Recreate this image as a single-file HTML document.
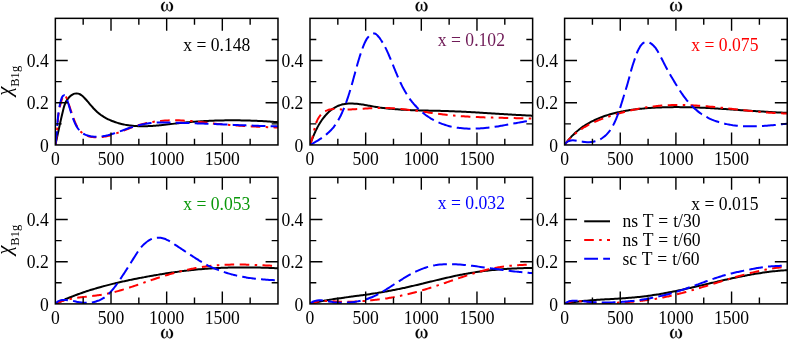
<!DOCTYPE html><html><head><meta charset="utf-8"><style>html,body{margin:0;padding:0;background:#fff}svg{display:block;will-change:transform;opacity:0.999}text{font-family:"Liberation Serif",serif;}</style></head><body>
<svg width="789" height="340" viewBox="0 0 789 340">
<rect width="789" height="340" fill="#fff"/>
<defs><g id="om" fill="#000" stroke="#000" stroke-width="0.25" stroke-linejoin="round"><path id="lobe" d="M-2.29,1.83 C-4.3,2.3 -6.0,4.6 -6.0,6.69 C-6.0,9.2 -4.8,11.3 -3.06,11.3 C-1.8,11.3 -1.0,10.6 -0.5,9.5 L-0.8,9.0 C-1.3,10.1 -1.8,10.65 -2.48,10.65 C-3.5,10.65 -4.05,8.6 -4.05,6.88 C-4.05,5.0 -3.4,3.3 -2.1,2.5 Z"/><use href="#lobe" transform="scale(-1,1)"/><path d="M-0.72,4.2 H0.72 L0.62,8.8 L0,9.7 L-0.62,8.8 Z"/></g></defs>
<clipPath id="c0"><rect x="55.35" y="18.35" width="222.63" height="126.6"/></clipPath>
<g clip-path="url(#c0)" fill="none" stroke-linecap="butt" stroke-linejoin="round"><path d="M55.35,144.95C55.42,144.65 55.62,143.78 55.76,143.18C55.89,142.58 56.03,141.97 56.17,141.36C56.31,140.74 56.45,140.11 56.59,139.48C56.73,138.84 56.87,138.20 57.01,137.55C57.15,136.90 57.30,136.24 57.44,135.58C57.58,134.92 57.73,134.25 57.87,133.58C58.02,132.90 58.17,132.22 58.31,131.54C58.46,130.86 58.61,130.17 58.76,129.49C58.90,128.80 59.05,128.10 59.20,127.41C59.35,126.72 59.51,126.02 59.66,125.33C59.81,124.63 59.96,123.93 60.11,123.23C60.27,122.54 60.42,121.84 60.58,121.14C60.73,120.45 60.89,119.75 61.04,119.06C61.20,118.37 61.35,117.68 61.51,116.99C61.67,116.30 61.83,115.61 61.98,114.93C62.14,114.25 62.30,113.58 62.46,112.91C62.62,112.23 62.78,111.57 62.94,110.91C63.10,110.25 63.26,109.59 63.43,108.94C63.60,108.30 63.77,107.66 63.96,107.02C64.15,106.39 64.34,105.77 64.55,105.15C64.77,104.54 64.99,103.93 65.25,103.34C65.50,102.74 65.77,102.15 66.07,101.58C66.37,101.00 66.70,100.44 67.06,99.89C67.42,99.34 67.81,98.79 68.24,98.27C68.67,97.75 69.14,97.22 69.63,96.74C70.13,96.26 70.66,95.79 71.21,95.39C71.75,94.98 72.33,94.61 72.91,94.32C73.49,94.03 74.09,93.79 74.68,93.64C75.27,93.48 75.88,93.40 76.47,93.40C77.06,93.39 77.65,93.47 78.22,93.61C78.79,93.75 79.35,93.97 79.89,94.24C80.43,94.52 80.96,94.86 81.48,95.24C82.00,95.62 82.51,96.06 83.01,96.51C83.51,96.97 84.00,97.47 84.48,97.97C84.96,98.47 85.44,99.00 85.91,99.53C86.38,100.05 86.84,100.59 87.30,101.12C87.76,101.65 88.22,102.19 88.67,102.73C89.13,103.26 89.58,103.80 90.04,104.33C90.49,104.87 90.95,105.40 91.40,105.93C91.86,106.45 92.32,106.98 92.79,107.50C93.25,108.01 93.72,108.53 94.19,109.03C94.67,109.53 95.15,110.02 95.64,110.51C96.13,110.99 96.62,111.46 97.13,111.92C97.64,112.38 98.16,112.82 98.68,113.26C99.21,113.69 99.75,114.11 100.29,114.51C100.84,114.92 101.39,115.32 101.96,115.70C102.52,116.08 103.09,116.45 103.67,116.81C104.25,117.16 104.83,117.51 105.43,117.84C106.02,118.18 106.62,118.50 107.23,118.81C107.83,119.12 108.44,119.42 109.06,119.71C109.68,119.99 110.30,120.27 110.93,120.54C111.56,120.80 112.19,121.06 112.83,121.30C113.46,121.55 114.10,121.78 114.75,122.00C115.39,122.23 116.04,122.44 116.69,122.64C117.34,122.85 117.99,123.04 118.64,123.22C119.30,123.41 119.95,123.58 120.61,123.74C121.27,123.91 121.93,124.06 122.58,124.21C123.24,124.35 123.90,124.49 124.56,124.62C125.22,124.75 125.88,124.87 126.54,124.98C127.20,125.09 127.87,125.19 128.53,125.29C129.19,125.38 129.85,125.47 130.51,125.55C131.17,125.63 131.84,125.70 132.50,125.76C133.16,125.82 133.83,125.88 134.49,125.93C135.15,125.98 135.82,126.02 136.48,126.06C137.15,126.10 137.81,126.13 138.48,126.15C139.14,126.18 139.81,126.19 140.47,126.20C141.14,126.22 141.80,126.22 142.47,126.22C143.14,126.22 143.80,126.22 144.47,126.21C145.14,126.20 145.80,126.19 146.47,126.17C147.14,126.15 147.81,126.12 148.48,126.10C149.14,126.07 149.81,126.03 150.48,126.00C151.15,125.96 151.82,125.92 152.49,125.88C153.16,125.83 153.83,125.79 154.50,125.74C155.17,125.68 155.84,125.63 156.51,125.57C157.18,125.52 157.85,125.46 158.52,125.40C159.19,125.33 159.86,125.27 160.53,125.20C161.20,125.14 161.87,125.07 162.55,125.00C163.22,124.93 163.89,124.86 164.56,124.78C165.23,124.71 165.91,124.64 166.58,124.56C167.25,124.49 167.92,124.41 168.60,124.33C169.27,124.25 169.94,124.18 170.62,124.10C171.29,124.02 171.96,123.94 172.64,123.87C173.31,123.79 173.98,123.71 174.66,123.63C175.33,123.56 176.01,123.48 176.68,123.40C177.36,123.33 178.03,123.25 178.71,123.18C179.38,123.11 180.06,123.03 180.73,122.96C181.41,122.89 182.08,122.82 182.76,122.76C183.43,122.69 184.11,122.62 184.78,122.56C185.46,122.49 186.13,122.43 186.81,122.37C187.49,122.30 188.16,122.24 188.84,122.19C189.51,122.13 190.19,122.07 190.87,122.01C191.54,121.96 192.22,121.90 192.90,121.85C193.57,121.80 194.25,121.74 194.93,121.69C195.60,121.64 196.28,121.59 196.96,121.55C197.63,121.50 198.31,121.45 198.99,121.41C199.66,121.36 200.34,121.32 201.02,121.28C201.70,121.24 202.37,121.20 203.05,121.16C203.73,121.12 204.40,121.08 205.08,121.04C205.76,121.01 206.44,120.97 207.11,120.94C207.79,120.91 208.47,120.87 209.15,120.84C209.82,120.81 210.50,120.78 211.18,120.75C211.86,120.73 212.53,120.70 213.21,120.67C213.89,120.65 214.57,120.63 215.24,120.60C215.92,120.58 216.60,120.56 217.28,120.54C217.95,120.52 218.63,120.50 219.31,120.48C219.99,120.47 220.66,120.45 221.34,120.44C222.02,120.42 222.70,120.41 223.37,120.40C224.05,120.38 224.73,120.37 225.41,120.37C226.08,120.36 226.76,120.35 227.44,120.34C228.11,120.34 228.79,120.33 229.47,120.33C230.15,120.32 230.82,120.32 231.50,120.32C232.18,120.32 232.85,120.32 233.53,120.32C234.21,120.32 234.88,120.32 235.56,120.33C236.24,120.33 236.91,120.33 237.59,120.34C238.27,120.35 238.94,120.36 239.62,120.36C240.29,120.37 240.97,120.38 241.65,120.39C242.32,120.41 243.00,120.42 243.67,120.43C244.35,120.45 245.02,120.46 245.70,120.48C246.38,120.50 247.05,120.51 247.73,120.53C248.40,120.55 249.08,120.57 249.75,120.59C250.43,120.61 251.10,120.64 251.77,120.66C252.45,120.68 253.12,120.71 253.80,120.74C254.47,120.76 255.15,120.79 255.82,120.82C256.49,120.85 257.17,120.88 257.84,120.91C258.51,120.94 259.19,120.97 259.86,121.01C260.53,121.04 261.21,121.07 261.88,121.11C262.55,121.15 263.22,121.18 263.90,121.22C264.57,121.26 265.24,121.30 265.91,121.34C266.58,121.38 267.26,121.42 267.93,121.47C268.60,121.51 269.27,121.55 269.94,121.60C270.61,121.65 271.28,121.69 271.95,121.74C272.62,121.79 273.29,121.84 273.96,121.89C274.63,121.94 275.30,121.99 275.97,122.04C276.64,122.09 277.64,122.17 277.98,122.20" stroke="#000" stroke-width="2.0"/><path d="M55.35,144.95C55.41,144.62 55.60,143.65 55.71,143.00C55.82,142.34 55.92,141.69 56.02,141.02C56.11,140.36 56.20,139.69 56.29,139.02C56.37,138.35 56.44,137.68 56.52,137.01C56.59,136.33 56.66,135.65 56.72,134.98C56.78,134.30 56.84,133.62 56.90,132.93C56.95,132.25 57.01,131.57 57.06,130.89C57.11,130.20 57.16,129.52 57.21,128.83C57.26,128.15 57.30,127.47 57.35,126.79C57.40,126.10 57.45,125.42 57.49,124.74C57.54,124.06 57.59,123.38 57.65,122.71C57.70,122.03 57.75,121.36 57.81,120.68C57.87,120.01 57.93,119.34 57.99,118.68C58.06,118.01 58.12,117.35 58.20,116.70C58.27,116.04 58.35,115.39 58.44,114.74C58.52,114.09 58.61,113.45 58.71,112.80C58.81,112.16 58.91,111.52 59.03,110.88C59.14,110.24 59.26,109.60 59.40,108.95C59.53,108.30 59.67,107.65 59.82,106.98C59.97,106.32 60.13,105.65 60.30,104.97C60.48,104.29 60.66,103.60 60.85,102.89C61.05,102.18 61.26,101.44 61.48,100.72C61.70,100.01 61.94,99.24 62.19,98.58C62.45,97.92 62.72,97.26 63.03,96.76C63.33,96.26 63.67,95.79 64.02,95.59C64.36,95.39 64.76,95.35 65.11,95.58C65.45,95.81 65.78,96.42 66.09,96.98C66.40,97.54 66.68,98.27 66.96,98.96C67.23,99.65 67.49,100.42 67.74,101.13C67.99,101.85 68.23,102.55 68.46,103.24C68.70,103.92 68.92,104.59 69.14,105.24C69.35,105.90 69.56,106.54 69.77,107.17C69.98,107.80 70.18,108.42 70.38,109.04C70.58,109.65 70.78,110.26 70.98,110.87C71.18,111.47 71.38,112.07 71.58,112.68C71.78,113.28 71.98,113.88 72.19,114.49C72.40,115.10 72.61,115.71 72.83,116.32C73.04,116.94 73.27,117.56 73.50,118.20C73.73,118.83 73.97,119.48 74.22,120.13C74.47,120.78 74.73,121.44 75.01,122.10C75.28,122.75 75.56,123.42 75.86,124.07C76.17,124.72 76.48,125.37 76.81,126.00C77.14,126.63 77.49,127.25 77.85,127.85C78.22,128.45 78.60,129.03 79.01,129.58C79.42,130.13 79.84,130.66 80.29,131.16C80.74,131.65 81.21,132.11 81.70,132.54C82.19,132.97 82.71,133.36 83.24,133.72C83.78,134.09 84.33,134.42 84.90,134.72C85.47,135.02 86.05,135.29 86.65,135.54C87.25,135.78 87.87,136.00 88.49,136.19C89.12,136.38 89.76,136.54 90.41,136.68C91.06,136.82 91.71,136.94 92.38,137.03C93.04,137.13 93.72,137.19 94.40,137.24C95.07,137.29 95.76,137.32 96.44,137.33C97.13,137.34 97.82,137.33 98.51,137.30C99.19,137.27 99.88,137.22 100.57,137.16C101.26,137.10 101.94,137.02 102.63,136.93C103.31,136.84 103.98,136.73 104.66,136.61C105.33,136.50 106.00,136.36 106.66,136.22C107.32,136.08 107.98,135.92 108.64,135.76C109.29,135.59 109.95,135.42 110.59,135.23C111.24,135.05 111.89,134.86 112.53,134.65C113.18,134.45 113.82,134.24 114.45,134.03C115.09,133.81 115.73,133.59 116.36,133.36C117.00,133.13 117.63,132.90 118.26,132.66C118.89,132.43 119.52,132.19 120.15,131.94C120.77,131.70 121.40,131.45 122.03,131.20C122.65,130.95 123.28,130.70 123.91,130.45C124.53,130.20 125.16,129.95 125.78,129.70C126.41,129.45 127.03,129.20 127.66,128.95C128.29,128.70 128.91,128.46 129.54,128.22C130.17,127.97 130.80,127.73 131.43,127.50C132.06,127.27 132.69,127.04 133.33,126.81C133.96,126.59 134.60,126.37 135.24,126.16C135.88,125.95 136.52,125.74 137.16,125.54C137.81,125.34 138.45,125.15 139.10,124.96C139.74,124.77 140.39,124.59 141.04,124.42C141.69,124.24 142.34,124.07 143.00,123.91C143.65,123.75 144.30,123.59 144.96,123.44C145.62,123.28 146.27,123.14 146.93,123.00C147.59,122.86 148.25,122.72 148.91,122.59C149.58,122.47 150.24,122.34 150.90,122.23C151.57,122.11 152.23,122.00 152.90,121.89C153.56,121.78 154.23,121.68 154.90,121.59C155.57,121.49 156.24,121.40 156.90,121.32C157.57,121.23 158.24,121.15 158.91,121.08C159.59,121.01 160.26,120.94 160.93,120.87C161.60,120.81 162.27,120.75 162.94,120.70C163.62,120.65 164.29,120.60 164.96,120.56C165.64,120.51 166.31,120.48 166.98,120.45C167.66,120.41 168.33,120.39 169.00,120.36C169.68,120.34 170.35,120.32 171.03,120.31C171.70,120.30 172.37,120.29 173.05,120.29C173.72,120.28 174.39,120.29 175.07,120.29C175.74,120.30 176.41,120.31 177.09,120.32C177.76,120.33 178.43,120.35 179.10,120.37C179.78,120.40 180.45,120.42 181.12,120.45C181.80,120.48 182.47,120.51 183.14,120.55C183.81,120.58 184.49,120.62 185.16,120.67C185.83,120.71 186.50,120.75 187.18,120.80C187.85,120.85 188.52,120.90 189.19,120.95C189.87,121.00 190.54,121.06 191.21,121.12C191.88,121.17 192.56,121.23 193.23,121.30C193.90,121.36 194.57,121.42 195.24,121.49C195.92,121.55 196.59,121.62 197.26,121.69C197.93,121.75 198.60,121.82 199.28,121.89C199.95,121.96 200.62,122.04 201.29,122.11C201.96,122.18 202.64,122.26 203.31,122.33C203.98,122.40 204.65,122.48 205.32,122.55C206.00,122.63 206.67,122.70 207.34,122.78C208.01,122.85 208.68,122.93 209.35,123.00C210.03,123.08 210.70,123.15 211.37,123.23C212.04,123.30 212.71,123.38 213.38,123.45C214.06,123.52 214.73,123.59 215.40,123.67C216.07,123.74 216.74,123.81 217.41,123.88C218.09,123.95 218.76,124.01 219.43,124.08C220.10,124.15 220.77,124.21 221.44,124.27C222.12,124.34 222.79,124.40 223.46,124.46C224.13,124.52 224.80,124.58 225.48,124.64C226.15,124.70 226.82,124.76 227.49,124.81C228.16,124.87 228.83,124.93 229.51,124.98C230.18,125.03 230.85,125.09 231.52,125.14C232.19,125.19 232.87,125.24 233.54,125.29C234.21,125.34 234.88,125.39 235.55,125.44C236.23,125.49 236.90,125.53 237.57,125.58C238.24,125.62 238.91,125.67 239.59,125.71C240.26,125.76 240.93,125.80 241.60,125.84C242.28,125.88 242.95,125.92 243.62,125.96C244.29,126.00 244.97,126.04 245.64,126.08C246.31,126.12 246.98,126.16 247.66,126.20C248.33,126.23 249.00,126.27 249.67,126.31C250.35,126.34 251.02,126.38 251.69,126.41C252.37,126.44 253.04,126.48 253.71,126.51C254.39,126.54 255.06,126.58 255.73,126.61C256.40,126.64 257.08,126.67 257.75,126.70C258.42,126.73 259.10,126.76 259.77,126.79C260.45,126.82 261.12,126.85 261.79,126.88C262.47,126.91 263.14,126.94 263.81,126.96C264.49,126.99 265.16,127.02 265.84,127.05C266.51,127.07 267.18,127.10 267.86,127.13C268.53,127.15 269.21,127.18 269.88,127.20C270.56,127.23 271.23,127.26 271.91,127.28C272.58,127.31 273.25,127.33 273.93,127.35C274.60,127.38 275.28,127.40 275.95,127.43C276.63,127.45 277.64,127.49 277.98,127.50" stroke="#ff0000" stroke-width="2.0" stroke-dasharray="9.6,5.4,2.5,5.3,9.6,5.5"/><path d="M55.35,144.95C55.40,144.61 55.55,143.58 55.64,142.90C55.73,142.22 55.81,141.54 55.89,140.86C55.98,140.19 56.05,139.51 56.12,138.84C56.20,138.16 56.26,137.49 56.33,136.82C56.39,136.15 56.45,135.49 56.51,134.82C56.57,134.15 56.63,133.49 56.68,132.82C56.74,132.16 56.79,131.50 56.84,130.83C56.90,130.17 56.95,129.51 57.00,128.85C57.05,128.19 57.10,127.52 57.15,126.86C57.20,126.20 57.25,125.54 57.30,124.88C57.35,124.22 57.41,123.56 57.46,122.90C57.52,122.24 57.57,121.58 57.63,120.91C57.69,120.25 57.75,119.59 57.82,118.93C57.88,118.26 57.95,117.60 58.02,116.93C58.09,116.27 58.17,115.60 58.25,114.93C58.33,114.26 58.41,113.59 58.50,112.92C58.59,112.25 58.69,111.58 58.79,110.90C58.89,110.23 59.00,109.55 59.12,108.87C59.23,108.19 59.35,107.51 59.48,106.82C59.61,106.14 59.74,105.45 59.89,104.76C60.03,104.07 60.19,103.38 60.35,102.68C60.51,101.99 60.67,101.28 60.86,100.59C61.05,99.90 61.23,99.19 61.47,98.56C61.70,97.94 61.96,97.32 62.28,96.83C62.60,96.34 62.98,95.86 63.39,95.63C63.80,95.39 64.34,95.24 64.76,95.42C65.17,95.59 65.55,96.16 65.88,96.70C66.21,97.24 66.49,97.96 66.76,98.65C67.03,99.34 67.26,100.12 67.49,100.84C67.72,101.57 67.93,102.29 68.14,102.98C68.36,103.67 68.56,104.34 68.76,105.01C68.96,105.67 69.15,106.31 69.34,106.94C69.53,107.58 69.72,108.20 69.90,108.82C70.09,109.43 70.27,110.04 70.46,110.64C70.65,111.25 70.83,111.84 71.02,112.44C71.21,113.04 71.41,113.64 71.61,114.24C71.81,114.84 72.01,115.45 72.22,116.06C72.43,116.67 72.65,117.28 72.88,117.91C73.11,118.54 73.35,119.18 73.60,119.82C73.85,120.47 74.11,121.13 74.39,121.78C74.66,122.43 74.95,123.09 75.26,123.74C75.56,124.39 75.88,125.04 76.23,125.67C76.57,126.30 76.92,126.92 77.30,127.52C77.68,128.12 78.08,128.71 78.50,129.26C78.92,129.81 79.36,130.34 79.83,130.84C80.30,131.33 80.79,131.79 81.31,132.22C81.82,132.65 82.36,133.04 82.92,133.40C83.48,133.76 84.06,134.08 84.65,134.38C85.25,134.68 85.86,134.94 86.48,135.18C87.10,135.42 87.73,135.62 88.38,135.81C89.02,135.99 89.67,136.14 90.32,136.27C90.98,136.41 91.64,136.51 92.30,136.59C92.96,136.68 93.62,136.74 94.28,136.78C94.94,136.82 95.59,136.83 96.25,136.83C96.90,136.83 97.55,136.81 98.20,136.78C98.84,136.74 99.49,136.69 100.13,136.62C100.78,136.55 101.42,136.47 102.06,136.37C102.71,136.27 103.35,136.16 103.99,136.04C104.64,135.92 105.28,135.79 105.92,135.65C106.57,135.50 107.21,135.35 107.86,135.19C108.50,135.02 109.15,134.85 109.79,134.67C110.44,134.49 111.09,134.30 111.73,134.11C112.38,133.91 113.03,133.71 113.67,133.50C114.32,133.30 114.97,133.08 115.62,132.87C116.26,132.65 116.91,132.43 117.56,132.20C118.21,131.98 118.86,131.75 119.51,131.52C120.16,131.29 120.81,131.05 121.46,130.82C122.11,130.59 122.76,130.35 123.41,130.12C124.06,129.88 124.71,129.65 125.36,129.41C126.01,129.18 126.67,128.95 127.32,128.72C127.97,128.49 128.62,128.26 129.28,128.04C129.93,127.82 130.58,127.60 131.24,127.39C131.89,127.18 132.55,126.97 133.20,126.76C133.86,126.56 134.51,126.37 135.17,126.18C135.82,125.99 136.48,125.80 137.13,125.63C137.79,125.45 138.45,125.29 139.10,125.12C139.76,124.96 140.42,124.81 141.07,124.66C141.73,124.52 142.39,124.38 143.05,124.24C143.71,124.11 144.36,123.98 145.02,123.87C145.68,123.75 146.34,123.64 147.00,123.53C147.66,123.43 148.32,123.34 148.98,123.25C149.64,123.16 150.30,123.08 150.96,123.01C151.62,122.93 152.29,122.87 152.95,122.81C153.61,122.75 154.27,122.70 154.93,122.66C155.60,122.62 156.26,122.58 156.92,122.55C157.59,122.52 158.25,122.50 158.91,122.48C159.58,122.47 160.24,122.45 160.91,122.45C161.57,122.44 162.24,122.43 162.90,122.43C163.57,122.43 164.23,122.44 164.90,122.44C165.56,122.45 166.23,122.46 166.90,122.47C167.56,122.48 168.23,122.50 168.90,122.51C169.57,122.53 170.23,122.54 170.90,122.56C171.57,122.57 172.24,122.59 172.91,122.61C173.57,122.62 174.24,122.64 174.91,122.66C175.58,122.67 176.25,122.69 176.92,122.71C177.59,122.73 178.26,122.75 178.93,122.77C179.60,122.79 180.27,122.81 180.95,122.83C181.62,122.85 182.29,122.87 182.96,122.89C183.63,122.91 184.30,122.93 184.98,122.95C185.65,122.98 186.32,123.00 186.99,123.02C187.67,123.04 188.34,123.07 189.01,123.09C189.68,123.11 190.36,123.13 191.03,123.16C191.70,123.18 192.38,123.21 193.05,123.23C193.73,123.25 194.40,123.28 195.07,123.30C195.75,123.33 196.42,123.35 197.10,123.38C197.77,123.40 198.45,123.43 199.12,123.46C199.80,123.48 200.47,123.51 201.15,123.53C201.82,123.56 202.50,123.59 203.17,123.61C203.85,123.64 204.52,123.67 205.20,123.69C205.88,123.72 206.55,123.75 207.23,123.78C207.90,123.80 208.58,123.83 209.26,123.86C209.93,123.89 210.61,123.91 211.28,123.94C211.96,123.97 212.64,124.00 213.31,124.03C213.99,124.05 214.67,124.08 215.34,124.11C216.02,124.14 216.70,124.17 217.37,124.20C218.05,124.22 218.73,124.25 219.40,124.28C220.08,124.31 220.75,124.34 221.43,124.37C222.11,124.39 222.78,124.42 223.46,124.45C224.14,124.48 224.81,124.51 225.49,124.54C226.17,124.57 226.84,124.59 227.52,124.62C228.20,124.65 228.87,124.68 229.55,124.71C230.23,124.74 230.90,124.76 231.58,124.79C232.26,124.82 232.93,124.85 233.61,124.88C234.28,124.91 234.96,124.93 235.64,124.96C236.31,124.99 236.99,125.02 237.66,125.05C238.34,125.07 239.02,125.10 239.69,125.13C240.37,125.15 241.04,125.18 241.72,125.21C242.39,125.24 243.07,125.26 243.74,125.29C244.42,125.32 245.09,125.34 245.77,125.37C246.44,125.40 247.12,125.42 247.79,125.45C248.47,125.47 249.14,125.50 249.81,125.52C250.49,125.55 251.16,125.58 251.84,125.60C252.51,125.63 253.18,125.65 253.86,125.67C254.53,125.70 255.20,125.72 255.88,125.75C256.55,125.77 257.22,125.79 257.89,125.82C258.57,125.84 259.24,125.86 259.91,125.89C260.58,125.91 261.25,125.93 261.92,125.95C262.60,125.97 263.27,126.00 263.94,126.02C264.61,126.04 265.28,126.06 265.95,126.08C266.62,126.10 267.29,126.12 267.96,126.14C268.63,126.16 269.30,126.18 269.97,126.20C270.64,126.21 271.30,126.23 271.97,126.25C272.64,126.27 273.31,126.29 273.98,126.30C274.64,126.32 275.31,126.34 275.98,126.35C276.64,126.37 277.64,126.39 277.98,126.40" stroke="#0000ff" stroke-width="2.0" stroke-dasharray="13.8,5.2"/></g>
<path d="M83.18,144.95v-6.3M83.18,18.35v6.3M111.01,144.95v-12.4M111.01,18.35v12.4M138.84,144.95v-6.3M138.84,18.35v6.3M166.66,144.95v-12.4M166.66,18.35v12.4M194.49,144.95v-6.3M194.49,18.35v6.3M222.32,144.95v-12.4M222.32,18.35v12.4M250.15,144.95v-6.3M250.15,18.35v6.3M55.35,123.85h6.3M277.98,123.85h-6.3M55.35,102.75h12.4M277.98,102.75h-12.4M55.35,81.65h6.3M277.98,81.65h-6.3M55.35,60.55h12.4M277.98,60.55h-12.4M55.35,39.45h6.3M277.98,39.45h-6.3" stroke="#000" stroke-width="1.4" fill="none"/>
<rect x="55.35" y="18.35" width="222.63" height="126.6" fill="none" stroke="#000" stroke-width="1.5"/>
<text transform="translate(55.35,164.55) scale(1,1.08)" font-size="17.6" text-anchor="middle" fill="#000">0</text>
<text transform="translate(111.01,164.55) scale(1,1.08)" font-size="17.6" text-anchor="middle" fill="#000">500</text>
<text transform="translate(166.66,164.55) scale(1,1.08)" font-size="17.6" text-anchor="middle" fill="#000">1000</text>
<text transform="translate(222.32,164.55) scale(1,1.08)" font-size="17.6" text-anchor="middle" fill="#000">1500</text>
<text transform="translate(48.75,151.95) scale(1,1.08)" font-size="17.6" text-anchor="end" fill="#000">0</text>
<text transform="translate(48.75,109.15) scale(1,1.08)" font-size="17.6" text-anchor="end" fill="#000">0.2</text>
<text transform="translate(48.75,66.55) scale(1,1.08)" font-size="17.6" text-anchor="end" fill="#000">0.4</text>
<use href="#om" x="167.06" y="0"/>
<text transform="translate(250.28,50.65) scale(1,1.08)" font-size="17.6" text-anchor="end" fill="#000">x = 0.148</text>
<clipPath id="c1"><rect x="310.0" y="18.35" width="222.63" height="126.6"/></clipPath>
<g clip-path="url(#c1)" fill="none" stroke-linecap="butt" stroke-linejoin="round"><path d="M310.00,144.95C310.11,144.65 310.42,143.77 310.64,143.18C310.85,142.58 311.07,141.98 311.30,141.37C311.53,140.76 311.76,140.14 312.00,139.53C312.24,138.91 312.48,138.29 312.73,137.66C312.98,137.04 313.24,136.41 313.50,135.78C313.76,135.15 314.03,134.52 314.31,133.89C314.59,133.26 314.87,132.63 315.16,131.99C315.45,131.36 315.75,130.73 316.05,130.11C316.35,129.48 316.67,128.85 316.99,128.23C317.31,127.60 317.63,126.98 317.97,126.37C318.31,125.75 318.65,125.14 319.00,124.53C319.36,123.93 319.72,123.33 320.09,122.73C320.46,122.14 320.83,121.55 321.22,120.97C321.61,120.39 322.01,119.82 322.41,119.25C322.82,118.69 323.24,118.14 323.66,117.59C324.09,117.05 324.52,116.51 324.97,115.99C325.42,115.47 325.87,114.95 326.34,114.46C326.80,113.96 327.28,113.47 327.76,113.00C328.25,112.52 328.74,112.06 329.24,111.62C329.74,111.17 330.26,110.74 330.78,110.33C331.30,109.91 331.83,109.51 332.36,109.13C332.90,108.75 333.45,108.39 334.00,108.04C334.55,107.69 335.12,107.37 335.68,107.06C336.25,106.75 336.83,106.46 337.42,106.19C338.00,105.92 338.59,105.67 339.19,105.45C339.79,105.22 340.40,105.02 341.01,104.84C341.62,104.65 342.24,104.49 342.86,104.35C343.49,104.21 344.12,104.09 344.76,103.99C345.39,103.88 346.03,103.80 346.68,103.73C347.32,103.66 347.97,103.62 348.63,103.58C349.28,103.54 349.94,103.53 350.60,103.52C351.26,103.51 351.92,103.52 352.59,103.54C353.26,103.56 353.92,103.60 354.59,103.64C355.26,103.68 355.94,103.74 356.61,103.80C357.28,103.87 357.96,103.94 358.63,104.02C359.30,104.10 359.98,104.19 360.66,104.29C361.33,104.38 362.01,104.49 362.68,104.60C363.36,104.70 364.04,104.82 364.71,104.93C365.39,105.05 366.07,105.17 366.75,105.29C367.43,105.41 368.10,105.53 368.78,105.66C369.46,105.78 370.14,105.91 370.82,106.03C371.50,106.15 372.17,106.27 372.85,106.39C373.53,106.51 374.21,106.63 374.89,106.74C375.57,106.86 376.24,106.97 376.92,107.07C377.60,107.18 378.28,107.28 378.95,107.38C379.63,107.48 380.31,107.58 380.99,107.67C381.66,107.76 382.34,107.85 383.02,107.94C383.70,108.03 384.37,108.11 385.05,108.19C385.73,108.27 386.40,108.35 387.08,108.43C387.76,108.50 388.43,108.58 389.11,108.64C389.79,108.71 390.46,108.78 391.14,108.85C391.81,108.91 392.49,108.97 393.17,109.03C393.84,109.09 394.52,109.15 395.19,109.20C395.87,109.26 396.54,109.31 397.22,109.36C397.89,109.41 398.57,109.46 399.25,109.51C399.92,109.55 400.60,109.60 401.27,109.64C401.95,109.68 402.62,109.72 403.30,109.76C403.97,109.80 404.64,109.84 405.32,109.87C405.99,109.91 406.67,109.94 407.34,109.97C408.02,110.01 408.69,110.04 409.37,110.07C410.04,110.09 410.71,110.12 411.39,110.15C412.06,110.18 412.74,110.20 413.41,110.22C414.08,110.25 414.76,110.27 415.43,110.29C416.11,110.32 416.78,110.34 417.45,110.36C418.13,110.38 418.80,110.40 419.47,110.41C420.15,110.43 420.82,110.45 421.49,110.47C422.17,110.48 422.84,110.50 423.51,110.52C424.19,110.53 424.86,110.55 425.53,110.56C426.21,110.58 426.88,110.59 427.55,110.61C428.23,110.62 428.90,110.63 429.57,110.65C430.25,110.66 430.92,110.68 431.59,110.69C432.26,110.70 432.94,110.72 433.61,110.73C434.28,110.74 434.96,110.76 435.63,110.77C436.30,110.79 436.97,110.80 437.65,110.82C438.32,110.83 438.99,110.85 439.66,110.86C440.34,110.88 441.01,110.89 441.68,110.91C442.35,110.93 443.03,110.95 443.70,110.96C444.37,110.98 445.04,111.00 445.72,111.02C446.39,111.04 447.06,111.06 447.73,111.08C448.41,111.11 449.08,111.13 449.75,111.15C450.42,111.18 451.10,111.20 451.77,111.23C452.44,111.25 453.11,111.28 453.78,111.30C454.46,111.33 455.13,111.36 455.80,111.39C456.47,111.41 457.15,111.44 457.82,111.47C458.49,111.50 459.16,111.53 459.84,111.56C460.51,111.59 461.18,111.63 461.85,111.66C462.52,111.69 463.20,111.72 463.87,111.76C464.54,111.79 465.21,111.82 465.89,111.86C466.56,111.89 467.23,111.93 467.90,111.96C468.58,112.00 469.25,112.04 469.92,112.07C470.59,112.11 471.27,112.15 471.94,112.18C472.61,112.22 473.28,112.26 473.96,112.30C474.63,112.34 475.30,112.37 475.97,112.41C476.65,112.45 477.32,112.49 477.99,112.53C478.66,112.57 479.34,112.61 480.01,112.65C480.68,112.69 481.36,112.73 482.03,112.77C482.70,112.81 483.37,112.85 484.05,112.90C484.72,112.94 485.39,112.98 486.07,113.02C486.74,113.06 487.41,113.10 488.09,113.15C488.76,113.19 489.43,113.23 490.10,113.27C490.78,113.31 491.45,113.36 492.12,113.40C492.80,113.44 493.47,113.48 494.15,113.53C494.82,113.57 495.49,113.61 496.17,113.65C496.84,113.69 497.51,113.74 498.19,113.78C498.86,113.82 499.53,113.86 500.21,113.91C500.88,113.95 501.56,113.99 502.23,114.03C502.90,114.07 503.58,114.12 504.25,114.16C504.93,114.20 505.60,114.24 506.28,114.28C506.95,114.32 507.63,114.36 508.30,114.40C508.97,114.44 509.65,114.49 510.32,114.53C511.00,114.57 511.67,114.61 512.35,114.65C513.02,114.68 513.70,114.72 514.37,114.76C515.05,114.80 515.72,114.84 516.40,114.88C517.08,114.92 517.75,114.95 518.43,114.99C519.10,115.03 519.78,115.07 520.45,115.10C521.13,115.14 521.81,115.18 522.48,115.21C523.16,115.25 523.83,115.28 524.51,115.32C525.19,115.35 525.86,115.38 526.54,115.42C527.22,115.45 527.89,115.48 528.57,115.51C529.25,115.55 529.92,115.58 530.60,115.61C531.28,115.64 532.29,115.68 532.63,115.70" stroke="#000" stroke-width="2.0"/><path d="M310.00,144.95C310.11,144.65 310.46,143.76 310.68,143.15C310.90,142.54 311.10,141.91 311.30,141.28C311.50,140.65 311.69,140.01 311.88,139.36C312.06,138.71 312.24,138.05 312.42,137.39C312.59,136.73 312.76,136.06 312.93,135.39C313.09,134.73 313.25,134.05 313.42,133.38C313.58,132.70 313.74,132.02 313.90,131.35C314.06,130.67 314.22,130.00 314.38,129.33C314.54,128.65 314.70,127.98 314.88,127.32C315.05,126.65 315.23,125.99 315.42,125.33C315.61,124.68 315.81,124.03 316.03,123.39C316.24,122.75 316.47,122.11 316.73,121.49C316.98,120.87 317.25,120.26 317.55,119.66C317.85,119.06 318.17,118.47 318.52,117.90C318.88,117.33 319.26,116.77 319.66,116.23C320.07,115.69 320.51,115.17 320.97,114.67C321.44,114.18 321.93,113.70 322.45,113.26C322.97,112.82 323.52,112.40 324.09,112.02C324.66,111.64 325.26,111.29 325.87,110.98C326.48,110.66 327.11,110.39 327.74,110.16C328.36,109.93 329.00,109.74 329.64,109.59C330.28,109.44 330.91,109.34 331.55,109.26C332.19,109.18 332.84,109.15 333.48,109.12C334.12,109.10 334.77,109.11 335.42,109.12C336.06,109.14 336.71,109.17 337.36,109.21C338.01,109.24 338.67,109.28 339.32,109.32C339.97,109.35 340.63,109.39 341.29,109.42C341.94,109.44 342.60,109.46 343.26,109.48C343.92,109.49 344.58,109.50 345.24,109.50C345.90,109.50 346.56,109.50 347.23,109.50C347.89,109.49 348.56,109.48 349.22,109.46C349.89,109.45 350.55,109.43 351.22,109.41C351.89,109.38 352.56,109.35 353.23,109.32C353.90,109.29 354.57,109.26 355.24,109.22C355.91,109.19 356.58,109.15 357.26,109.11C357.93,109.07 358.60,109.03 359.28,108.98C359.95,108.94 360.62,108.89 361.30,108.85C361.97,108.80 362.65,108.75 363.33,108.71C364.00,108.66 364.68,108.61 365.35,108.57C366.03,108.52 366.71,108.48 367.39,108.43C368.06,108.39 368.74,108.34 369.42,108.30C370.09,108.26 370.77,108.22 371.45,108.19C372.13,108.15 372.80,108.11 373.48,108.08C374.16,108.05 374.84,108.02 375.51,108.00C376.19,107.98 376.87,107.95 377.55,107.94C378.22,107.92 378.90,107.91 379.58,107.90C380.25,107.90 380.93,107.89 381.60,107.89C382.28,107.90 382.96,107.90 383.63,107.91C384.31,107.92 384.98,107.93 385.66,107.95C386.33,107.97 387.01,107.99 387.68,108.02C388.36,108.04 389.03,108.07 389.70,108.10C390.38,108.14 391.05,108.17 391.73,108.21C392.40,108.25 393.07,108.29 393.75,108.34C394.42,108.38 395.09,108.43 395.77,108.48C396.44,108.53 397.11,108.59 397.78,108.65C398.46,108.70 399.13,108.76 399.80,108.83C400.47,108.89 401.14,108.95 401.82,109.02C402.49,109.09 403.16,109.16 403.83,109.23C404.50,109.30 405.17,109.37 405.84,109.45C406.52,109.53 407.19,109.60 407.86,109.68C408.53,109.76 409.20,109.84 409.87,109.93C410.54,110.01 411.21,110.09 411.88,110.18C412.55,110.26 413.22,110.35 413.89,110.44C414.56,110.53 415.23,110.62 415.90,110.71C416.57,110.80 417.24,110.89 417.91,110.98C418.58,111.07 419.25,111.16 419.92,111.26C420.58,111.35 421.25,111.44 421.92,111.54C422.59,111.63 423.26,111.73 423.93,111.82C424.60,111.92 425.27,112.01 425.94,112.11C426.60,112.20 427.27,112.30 427.94,112.39C428.61,112.49 429.28,112.58 429.95,112.67C430.61,112.77 431.28,112.86 431.95,112.96C432.62,113.05 433.29,113.14 433.96,113.23C434.62,113.32 435.29,113.42 435.96,113.51C436.63,113.60 437.29,113.68 437.96,113.77C438.63,113.86 439.30,113.95 439.97,114.03C440.63,114.12 441.30,114.20 441.97,114.28C442.64,114.37 443.30,114.45 443.97,114.53C444.64,114.60 445.31,114.68 445.98,114.76C446.64,114.83 447.31,114.91 447.98,114.98C448.65,115.05 449.31,115.12 449.98,115.19C450.65,115.25 451.32,115.32 451.98,115.38C452.65,115.45 453.32,115.51 453.99,115.57C454.65,115.63 455.32,115.69 455.99,115.75C456.66,115.80 457.33,115.86 457.99,115.91C458.66,115.97 459.33,116.02 460.00,116.07C460.66,116.12 461.33,116.17 462.00,116.22C462.67,116.27 463.34,116.31 464.00,116.36C464.67,116.40 465.34,116.45 466.01,116.49C466.68,116.53 467.34,116.57 468.01,116.61C468.68,116.65 469.35,116.69 470.02,116.73C470.69,116.77 471.36,116.80 472.02,116.84C472.69,116.87 473.36,116.91 474.03,116.94C474.70,116.97 475.37,117.00 476.04,117.03C476.71,117.06 477.37,117.09 478.04,117.12C478.71,117.15 479.38,117.18 480.05,117.20C480.72,117.23 481.39,117.26 482.06,117.28C482.73,117.31 483.40,117.33 484.07,117.36C484.74,117.38 485.41,117.40 486.08,117.42C486.75,117.45 487.42,117.47 488.09,117.49C488.76,117.51 489.43,117.53 490.10,117.55C490.77,117.57 491.44,117.59 492.12,117.60C492.79,117.62 493.46,117.64 494.13,117.66C494.80,117.68 495.47,117.69 496.14,117.71C496.82,117.73 497.49,117.74 498.16,117.76C498.83,117.77 499.50,117.79 500.18,117.80C500.85,117.82 501.52,117.83 502.19,117.85C502.87,117.86 503.54,117.88 504.21,117.89C504.89,117.91 505.56,117.92 506.23,117.94C506.91,117.95 507.58,117.97 508.26,117.98C508.93,117.99 509.60,118.01 510.28,118.02C510.95,118.04 511.63,118.05 512.30,118.07C512.98,118.08 513.65,118.09 514.33,118.11C515.00,118.12 515.68,118.14 516.36,118.15C517.03,118.17 517.71,118.19 518.38,118.20C519.06,118.22 519.74,118.23 520.42,118.25C521.09,118.27 521.77,118.28 522.45,118.30C523.12,118.32 523.80,118.34 524.48,118.35C525.16,118.37 525.84,118.39 526.52,118.41C527.19,118.43 527.87,118.45 528.55,118.47C529.23,118.49 529.91,118.51 530.59,118.53C531.27,118.56 532.29,118.59 532.63,118.60" stroke="#ff0000" stroke-width="2.0" stroke-dasharray="9.6,5.4,2.5,5.3,9.6,5.5"/><path d="M310.00,144.95C310.28,144.80 311.09,144.39 311.65,144.09C312.21,143.80 312.77,143.49 313.34,143.18C313.91,142.86 314.48,142.54 315.06,142.20C315.64,141.87 316.22,141.52 316.80,141.17C317.38,140.82 317.96,140.46 318.54,140.08C319.12,139.71 319.71,139.33 320.28,138.94C320.86,138.55 321.44,138.16 322.01,137.75C322.58,137.34 323.15,136.93 323.72,136.51C324.28,136.09 324.83,135.65 325.38,135.22C325.93,134.78 326.47,134.33 327.00,133.88C327.53,133.42 328.06,132.96 328.56,132.49C329.07,132.02 329.57,131.55 330.06,131.07C330.54,130.58 331.02,130.09 331.47,129.60C331.93,129.10 332.37,128.60 332.81,128.09C333.24,127.58 333.65,127.06 334.06,126.54C334.47,126.02 334.86,125.49 335.24,124.95C335.63,124.42 336.00,123.88 336.36,123.33C336.72,122.79 337.07,122.24 337.41,121.68C337.76,121.12 338.09,120.56 338.41,119.99C338.74,119.43 339.05,118.85 339.36,118.28C339.67,117.70 339.97,117.12 340.26,116.53C340.56,115.95 340.85,115.36 341.13,114.76C341.41,114.17 341.69,113.57 341.96,112.97C342.23,112.37 342.50,111.76 342.76,111.15C343.03,110.54 343.28,109.93 343.54,109.31C343.80,108.69 344.05,108.07 344.29,107.45C344.54,106.83 344.79,106.20 345.03,105.57C345.27,104.94 345.51,104.31 345.74,103.68C345.97,103.04 346.20,102.40 346.43,101.77C346.66,101.13 346.88,100.49 347.10,99.84C347.33,99.20 347.54,98.56 347.76,97.91C347.98,97.26 348.19,96.61 348.40,95.97C348.61,95.32 348.82,94.67 349.02,94.01C349.23,93.36 349.43,92.71 349.63,92.06C349.83,91.40 350.03,90.75 350.23,90.09C350.42,89.44 350.62,88.78 350.81,88.13C351.00,87.47 351.19,86.82 351.38,86.16C351.57,85.50 351.76,84.85 351.94,84.19C352.13,83.54 352.31,82.88 352.49,82.23C352.68,81.58 352.86,80.92 353.04,80.27C353.22,79.62 353.40,78.97 353.57,78.32C353.75,77.66 353.93,77.02 354.10,76.37C354.28,75.72 354.46,75.07 354.63,74.43C354.81,73.78 354.98,73.14 355.15,72.50C355.33,71.86 355.50,71.22 355.67,70.59C355.85,69.95 356.02,69.31 356.19,68.68C356.37,68.05 356.54,67.41 356.72,66.78C356.89,66.15 357.07,65.52 357.25,64.89C357.42,64.25 357.60,63.62 357.78,62.99C357.97,62.36 358.15,61.73 358.34,61.10C358.52,60.47 358.71,59.83 358.90,59.20C359.09,58.57 359.29,57.93 359.49,57.29C359.69,56.66 359.89,56.02 360.09,55.38C360.30,54.74 360.51,54.10 360.72,53.45C360.94,52.81 361.16,52.16 361.38,51.51C361.61,50.86 361.84,50.20 362.07,49.55C362.31,48.89 362.55,48.23 362.80,47.57C363.04,46.90 363.30,46.23 363.56,45.57C363.82,44.92 364.10,44.25 364.38,43.61C364.67,42.96 364.96,42.32 365.28,41.70C365.59,41.08 365.91,40.47 366.26,39.89C366.60,39.30 366.96,38.74 367.34,38.20C367.72,37.67 368.12,37.15 368.54,36.68C368.96,36.20 369.41,35.75 369.87,35.35C370.34,34.95 370.84,34.56 371.36,34.26C371.87,33.95 372.42,33.66 372.96,33.54C373.50,33.41 374.06,33.38 374.59,33.51C375.13,33.64 375.66,33.94 376.18,34.31C376.70,34.68 377.21,35.19 377.70,35.72C378.19,36.24 378.67,36.87 379.12,37.46C379.58,38.06 380.02,38.69 380.45,39.29C380.87,39.90 381.27,40.50 381.66,41.10C382.05,41.70 382.42,42.29 382.77,42.88C383.13,43.47 383.48,44.06 383.81,44.64C384.14,45.23 384.46,45.82 384.77,46.40C385.08,46.98 385.38,47.57 385.67,48.15C385.97,48.74 386.25,49.32 386.53,49.91C386.81,50.49 387.08,51.08 387.35,51.67C387.62,52.26 387.88,52.86 388.15,53.45C388.41,54.05 388.67,54.65 388.93,55.26C389.19,55.86 389.45,56.47 389.71,57.08C389.97,57.69 390.22,58.30 390.48,58.91C390.73,59.53 390.99,60.15 391.24,60.77C391.50,61.38 391.75,62.01 392.00,62.63C392.25,63.25 392.51,63.88 392.76,64.50C393.01,65.13 393.27,65.76 393.52,66.38C393.77,67.01 394.03,67.64 394.28,68.27C394.54,68.90 394.79,69.53 395.05,70.16C395.31,70.79 395.57,71.42 395.83,72.05C396.09,72.68 396.35,73.31 396.62,73.94C396.88,74.57 397.15,75.20 397.41,75.83C397.68,76.46 397.95,77.09 398.23,77.71C398.50,78.34 398.78,78.96 399.06,79.59C399.34,80.21 399.62,80.83 399.91,81.45C400.20,82.07 400.49,82.69 400.78,83.30C401.07,83.92 401.37,84.53 401.67,85.14C401.98,85.75 402.28,86.36 402.59,86.96C402.90,87.57 403.22,88.17 403.54,88.76C403.86,89.36 404.19,89.96 404.52,90.55C404.85,91.14 405.19,91.72 405.53,92.31C405.87,92.89 406.22,93.47 406.57,94.04C406.93,94.61 407.29,95.18 407.65,95.75C408.02,96.31 408.39,96.87 408.77,97.42C409.15,97.98 409.54,98.53 409.93,99.07C410.33,99.61 410.73,100.15 411.14,100.68C411.55,101.21 411.96,101.74 412.38,102.26C412.81,102.78 413.23,103.29 413.67,103.80C414.11,104.30 414.55,104.81 415.00,105.30C415.45,105.80 415.90,106.28 416.36,106.77C416.82,107.25 417.29,107.72 417.77,108.19C418.24,108.66 418.72,109.12 419.21,109.58C419.69,110.03 420.19,110.48 420.68,110.92C421.18,111.36 421.69,111.80 422.20,112.23C422.71,112.65 423.22,113.07 423.74,113.48C424.26,113.90 424.79,114.30 425.32,114.70C425.86,115.10 426.39,115.49 426.94,115.87C427.48,116.25 428.03,116.62 428.58,116.99C429.13,117.35 429.69,117.71 430.25,118.06C430.82,118.41 431.39,118.75 431.96,119.09C432.53,119.42 433.11,119.75 433.69,120.06C434.27,120.38 434.86,120.69 435.45,120.99C436.04,121.29 436.64,121.58 437.24,121.86C437.84,122.14 438.44,122.42 439.05,122.68C439.66,122.94 440.27,123.20 440.89,123.44C441.51,123.69 442.13,123.93 442.75,124.15C443.38,124.38 444.01,124.60 444.64,124.81C445.27,125.02 445.91,125.21 446.55,125.40C447.18,125.59 447.83,125.77 448.47,125.94C449.12,126.12 449.77,126.28 450.42,126.43C451.07,126.58 451.73,126.73 452.38,126.86C453.04,127.00 453.70,127.13 454.36,127.25C455.03,127.36 455.69,127.48 456.36,127.58C457.03,127.68 457.70,127.78 458.37,127.86C459.04,127.95 459.71,128.03 460.39,128.10C461.06,128.18 461.74,128.24 462.42,128.30C463.09,128.36 463.77,128.41 464.45,128.45C465.13,128.49 465.82,128.53 466.50,128.56C467.18,128.59 467.86,128.62 468.55,128.63C469.23,128.65 469.92,128.66 470.60,128.67C471.29,128.67 471.97,128.67 472.66,128.67C473.34,128.66 474.03,128.65 474.72,128.63C475.40,128.61 476.09,128.59 476.77,128.56C477.46,128.54 478.14,128.50 478.83,128.47C479.51,128.43 480.20,128.38 480.88,128.34C481.56,128.29 482.25,128.24 482.93,128.18C483.61,128.13 484.29,128.07 484.97,128.00C485.64,127.94 486.32,127.87 487.00,127.80C487.67,127.72 488.35,127.65 489.02,127.57C489.69,127.49 490.36,127.41 491.03,127.32C491.70,127.23 492.36,127.15 493.03,127.05C493.69,126.96 494.36,126.87 495.02,126.77C495.68,126.67 496.34,126.57 497.00,126.47C497.66,126.37 498.32,126.26 498.97,126.15C499.63,126.05 500.29,125.94 500.94,125.83C501.60,125.72 502.25,125.60 502.91,125.49C503.56,125.38 504.21,125.26 504.87,125.14C505.52,125.03 506.17,124.91 506.83,124.79C507.48,124.67 508.13,124.55 508.78,124.43C509.43,124.31 510.09,124.19 510.74,124.07C511.39,123.95 512.04,123.83 512.70,123.70C513.35,123.58 514.01,123.46 514.66,123.34C515.31,123.22 515.97,123.10 516.62,122.97C517.28,122.85 517.94,122.73 518.59,122.61C519.25,122.49 519.91,122.37 520.57,122.26C521.23,122.14 521.89,122.02 522.56,121.90C523.22,121.79 523.88,121.67 524.55,121.56C525.21,121.45 525.88,121.34 526.55,121.23C527.22,121.12 527.89,121.01 528.56,120.91C529.24,120.80 529.91,120.70 530.59,120.60C531.27,120.50 532.29,120.35 532.63,120.30" stroke="#0000ff" stroke-width="2.0" stroke-dasharray="13.8,5.2"/></g>
<path d="M337.83,144.95v-6.3M337.83,18.35v6.3M365.66,144.95v-12.4M365.66,18.35v12.4M393.49,144.95v-6.3M393.49,18.35v6.3M421.31,144.95v-12.4M421.31,18.35v12.4M449.14,144.95v-6.3M449.14,18.35v6.3M476.97,144.95v-12.4M476.97,18.35v12.4M504.80,144.95v-6.3M504.80,18.35v6.3M310.0,123.85h6.3M532.63,123.85h-6.3M310.0,102.75h12.4M532.63,102.75h-12.4M310.0,81.65h6.3M532.63,81.65h-6.3M310.0,60.55h12.4M532.63,60.55h-12.4M310.0,39.45h6.3M532.63,39.45h-6.3" stroke="#000" stroke-width="1.4" fill="none"/>
<rect x="310.0" y="18.35" width="222.63" height="126.6" fill="none" stroke="#000" stroke-width="1.5"/>
<text transform="translate(310.00,164.55) scale(1,1.08)" font-size="17.6" text-anchor="middle" fill="#000">0</text>
<text transform="translate(365.66,164.55) scale(1,1.08)" font-size="17.6" text-anchor="middle" fill="#000">500</text>
<text transform="translate(421.31,164.55) scale(1,1.08)" font-size="17.6" text-anchor="middle" fill="#000">1000</text>
<text transform="translate(476.97,164.55) scale(1,1.08)" font-size="17.6" text-anchor="middle" fill="#000">1500</text>
<text transform="translate(303.40,151.95) scale(1,1.08)" font-size="17.6" text-anchor="end" fill="#000">0</text>
<text transform="translate(303.40,109.15) scale(1,1.08)" font-size="17.6" text-anchor="end" fill="#000">0.2</text>
<text transform="translate(303.40,66.55) scale(1,1.08)" font-size="17.6" text-anchor="end" fill="#000">0.4</text>
<use href="#om" x="421.56" y="0"/>
<text transform="translate(504.93,46.25) scale(1,1.08)" font-size="17.6" text-anchor="end" fill="#701c58">x = 0.102</text>
<clipPath id="c2"><rect x="564.6" y="18.35" width="222.63" height="126.6"/></clipPath>
<g clip-path="url(#c2)" fill="none" stroke-linecap="butt" stroke-linejoin="round"><path d="M564.59,144.95C564.80,144.66 565.42,143.78 565.85,143.21C566.27,142.64 566.71,142.08 567.14,141.53C567.58,140.98 568.02,140.44 568.47,139.90C568.92,139.37 569.37,138.85 569.83,138.33C570.29,137.82 570.75,137.31 571.22,136.81C571.69,136.32 572.16,135.83 572.64,135.35C573.12,134.86 573.60,134.39 574.09,133.93C574.58,133.47 575.07,133.01 575.57,132.56C576.07,132.12 576.57,131.68 577.08,131.25C577.59,130.81 578.10,130.39 578.62,129.98C579.14,129.56 579.66,129.15 580.19,128.75C580.71,128.35 581.24,127.96 581.78,127.58C582.31,127.19 582.85,126.82 583.40,126.45C583.94,126.08 584.49,125.72 585.04,125.36C585.59,125.01 586.15,124.66 586.70,124.32C587.26,123.98 587.83,123.64 588.39,123.32C588.96,122.99 589.53,122.67 590.11,122.36C590.68,122.04 591.26,121.74 591.84,121.44C592.42,121.14 593.01,120.85 593.60,120.56C594.18,120.27 594.78,119.99 595.37,119.72C595.97,119.44 596.56,119.18 597.17,118.92C597.77,118.65 598.37,118.40 598.98,118.15C599.59,117.90 600.20,117.66 600.81,117.42C601.42,117.18 602.04,116.95 602.66,116.72C603.28,116.50 603.90,116.27 604.52,116.06C605.15,115.84 605.78,115.63 606.40,115.43C607.03,115.23 607.67,115.03 608.30,114.83C608.93,114.64 609.57,114.45 610.21,114.27C610.85,114.08 611.49,113.90 612.13,113.73C612.77,113.56 613.42,113.39 614.07,113.22C614.71,113.06 615.36,112.90 616.01,112.74C616.66,112.59 617.32,112.44 617.97,112.29C618.62,112.14 619.28,112.00 619.94,111.86C620.59,111.73 621.25,111.59 621.91,111.46C622.57,111.33 623.24,111.21 623.90,111.09C624.56,110.97 625.23,110.85 625.89,110.73C626.56,110.62 627.23,110.51 627.89,110.40C628.56,110.30 629.23,110.19 629.90,110.09C630.57,109.99 631.24,109.90 631.91,109.80C632.58,109.71 633.26,109.62 633.93,109.54C634.60,109.45 635.28,109.37 635.95,109.28C636.62,109.20 637.30,109.13 637.97,109.05C638.65,108.98 639.32,108.90 640.00,108.83C640.67,108.77 641.35,108.70 642.03,108.63C642.70,108.57 643.38,108.51 644.06,108.45C644.73,108.39 645.41,108.33 646.08,108.28C646.76,108.22 647.44,108.17 648.11,108.12C648.79,108.07 649.46,108.02 650.14,107.97C650.82,107.92 651.49,107.88 652.17,107.84C652.84,107.79 653.52,107.75 654.19,107.72C654.87,107.68 655.55,107.64 656.22,107.61C656.90,107.57 657.57,107.54 658.25,107.51C658.92,107.48 659.60,107.45 660.27,107.42C660.95,107.40 661.62,107.37 662.30,107.35C662.97,107.32 663.65,107.30 664.32,107.28C665.00,107.26 665.67,107.25 666.35,107.23C667.02,107.21 667.70,107.20 668.37,107.19C669.05,107.17 669.72,107.16 670.40,107.15C671.07,107.14 671.74,107.14 672.42,107.13C673.09,107.12 673.77,107.12 674.44,107.12C675.12,107.11 675.79,107.11 676.46,107.11C677.14,107.11 677.81,107.11 678.49,107.11C679.16,107.12 679.83,107.12 680.51,107.13C681.18,107.13 681.86,107.14 682.53,107.15C683.20,107.16 683.88,107.17 684.55,107.18C685.22,107.19 685.90,107.20 686.57,107.21C687.25,107.23 687.92,107.24 688.59,107.26C689.27,107.28 689.94,107.29 690.61,107.31C691.29,107.33 691.96,107.35 692.63,107.37C693.31,107.39 693.98,107.41 694.65,107.44C695.32,107.46 696.00,107.48 696.67,107.51C697.34,107.53 698.02,107.56 698.69,107.58C699.36,107.61 700.03,107.64 700.71,107.67C701.38,107.70 702.05,107.73 702.73,107.76C703.40,107.79 704.07,107.82 704.74,107.85C705.42,107.88 706.09,107.92 706.76,107.95C707.43,107.99 708.11,108.02 708.78,108.06C709.45,108.09 710.12,108.13 710.79,108.16C711.47,108.20 712.14,108.24 712.81,108.28C713.48,108.32 714.16,108.35 714.83,108.39C715.50,108.43 716.17,108.47 716.84,108.51C717.51,108.55 718.19,108.60 718.86,108.64C719.53,108.68 720.20,108.72 720.87,108.76C721.55,108.81 722.22,108.85 722.89,108.89C723.56,108.94 724.23,108.98 724.90,109.02C725.57,109.07 726.25,109.11 726.92,109.16C727.59,109.20 728.26,109.25 728.93,109.29C729.60,109.34 730.27,109.39 730.94,109.43C731.62,109.48 732.29,109.52 732.96,109.57C733.63,109.62 734.30,109.66 734.97,109.71C735.64,109.76 736.31,109.80 736.98,109.85C737.66,109.90 738.33,109.94 739.00,109.99C739.67,110.04 740.34,110.09 741.01,110.13C741.68,110.18 742.35,110.23 743.02,110.27C743.69,110.32 744.36,110.37 745.03,110.41C745.70,110.46 746.37,110.51 747.04,110.56C747.72,110.60 748.39,110.65 749.06,110.69C749.73,110.74 750.40,110.79 751.07,110.83C751.74,110.88 752.41,110.92 753.08,110.97C753.75,111.01 754.42,111.06 755.09,111.10C755.76,111.15 756.43,111.19 757.10,111.24C757.77,111.28 758.44,111.32 759.11,111.37C759.78,111.41 760.45,111.45 761.12,111.50C761.79,111.54 762.46,111.58 763.13,111.62C763.80,111.66 764.47,111.70 765.14,111.74C765.81,111.78 766.48,111.82 767.15,111.86C767.82,111.90 768.49,111.94 769.16,111.98C769.83,112.01 770.50,112.05 771.17,112.09C771.83,112.12 772.50,112.16 773.17,112.19C773.84,112.23 774.51,112.26 775.18,112.29C775.85,112.33 776.52,112.36 777.19,112.39C777.86,112.42 778.53,112.45 779.20,112.48C779.87,112.51 780.54,112.54 781.21,112.57C781.88,112.60 782.54,112.63 783.21,112.65C783.88,112.68 784.55,112.70 785.22,112.73C785.89,112.75 786.89,112.78 787.23,112.79" stroke="#000" stroke-width="2.0"/><path d="M564.59,144.95C564.81,144.66 565.47,143.77 565.92,143.20C566.36,142.63 566.81,142.07 567.27,141.52C567.73,140.98 568.19,140.44 568.66,139.92C569.13,139.40 569.61,138.88 570.09,138.38C570.57,137.88 571.05,137.39 571.54,136.92C572.04,136.44 572.53,135.97 573.03,135.51C573.53,135.05 574.04,134.61 574.55,134.17C575.06,133.73 575.58,133.30 576.10,132.88C576.62,132.47 577.14,132.06 577.67,131.66C578.20,131.26 578.74,130.86 579.27,130.48C579.81,130.10 580.36,129.72 580.90,129.36C581.45,128.99 582.00,128.63 582.56,128.28C583.11,127.93 583.67,127.59 584.24,127.25C584.80,126.91 585.37,126.59 585.94,126.26C586.51,125.94 587.08,125.63 587.66,125.32C588.24,125.01 588.82,124.70 589.41,124.41C589.99,124.11 590.58,123.82 591.17,123.53C591.77,123.24 592.36,122.96 592.96,122.69C593.56,122.41 594.16,122.14 594.76,121.88C595.37,121.61 595.98,121.35 596.59,121.09C597.20,120.84 597.81,120.58 598.43,120.34C599.04,120.09 599.66,119.84 600.28,119.60C600.90,119.36 601.52,119.12 602.15,118.89C602.78,118.66 603.40,118.43 604.03,118.20C604.66,117.97 605.30,117.75 605.93,117.53C606.56,117.30 607.20,117.09 607.84,116.87C608.48,116.66 609.12,116.44 609.76,116.23C610.40,116.02 611.04,115.82 611.69,115.61C612.33,115.41 612.98,115.21 613.62,115.01C614.27,114.81 614.92,114.61 615.57,114.42C616.22,114.22 616.87,114.03 617.53,113.84C618.18,113.65 618.83,113.46 619.49,113.28C620.14,113.09 620.80,112.91 621.46,112.73C622.11,112.55 622.77,112.38 623.43,112.20C624.09,112.03 624.75,111.86 625.41,111.69C626.07,111.52 626.74,111.36 627.40,111.19C628.06,111.03 628.73,110.87 629.39,110.71C630.06,110.55 630.72,110.40 631.39,110.25C632.06,110.10 632.73,109.95 633.39,109.80C634.06,109.66 634.73,109.51 635.40,109.38C636.07,109.24 636.74,109.10 637.41,108.97C638.08,108.83 638.75,108.70 639.43,108.58C640.10,108.45 640.77,108.32 641.44,108.20C642.12,108.08 642.79,107.96 643.46,107.85C644.14,107.74 644.81,107.63 645.49,107.52C646.16,107.41 646.84,107.31 647.51,107.20C648.19,107.10 648.86,107.01 649.54,106.91C650.21,106.82 650.89,106.73 651.56,106.64C652.24,106.55 652.92,106.47 653.59,106.39C654.27,106.31 654.95,106.23 655.62,106.16C656.30,106.08 656.97,106.02 657.65,105.95C658.33,105.88 659.00,105.82 659.68,105.76C660.35,105.70 661.03,105.65 661.71,105.60C662.38,105.55 663.06,105.50 663.73,105.46C664.41,105.41 665.09,105.37 665.76,105.33C666.44,105.29 667.11,105.26 667.79,105.23C668.46,105.20 669.14,105.17 669.81,105.15C670.49,105.12 671.17,105.10 671.84,105.08C672.52,105.06 673.19,105.05 673.87,105.03C674.54,105.02 675.22,105.01 675.89,105.00C676.57,105.00 677.24,104.99 677.92,104.99C678.59,104.99 679.27,104.99 679.94,105.00C680.62,105.00 681.29,105.01 681.97,105.02C682.64,105.03 683.32,105.04 683.99,105.05C684.67,105.07 685.34,105.08 686.01,105.10C686.69,105.12 687.36,105.14 688.04,105.17C688.71,105.19 689.39,105.22 690.06,105.24C690.74,105.27 691.41,105.30 692.09,105.33C692.76,105.37 693.43,105.40 694.11,105.44C694.78,105.47 695.46,105.51 696.13,105.55C696.81,105.59 697.48,105.63 698.15,105.68C698.83,105.72 699.50,105.77 700.18,105.81C700.85,105.86 701.52,105.91 702.20,105.96C702.87,106.01 703.55,106.06 704.22,106.12C704.90,106.17 705.57,106.23 706.24,106.28C706.92,106.34 707.59,106.40 708.27,106.46C708.94,106.52 709.61,106.58 710.29,106.64C710.96,106.70 711.64,106.76 712.31,106.83C712.98,106.89 713.66,106.95 714.33,107.02C715.01,107.09 715.68,107.15 716.35,107.22C717.03,107.29 717.70,107.36 718.38,107.43C719.05,107.50 719.72,107.57 720.40,107.64C721.07,107.71 721.75,107.78 722.42,107.85C723.09,107.93 723.77,108.00 724.44,108.07C725.12,108.15 725.79,108.22 726.46,108.29C727.14,108.37 727.81,108.44 728.49,108.52C729.16,108.59 729.83,108.67 730.51,108.74C731.18,108.82 731.86,108.90 732.53,108.97C733.21,109.05 733.88,109.12 734.55,109.20C735.23,109.28 735.90,109.35 736.58,109.43C737.25,109.51 737.93,109.58 738.60,109.66C739.27,109.73 739.95,109.81 740.62,109.88C741.30,109.96 741.97,110.04 742.65,110.11C743.32,110.19 743.99,110.26 744.67,110.33C745.34,110.41 746.02,110.48 746.69,110.55C747.37,110.63 748.04,110.70 748.72,110.77C749.39,110.84 750.07,110.91 750.74,110.99C751.41,111.06 752.09,111.13 752.76,111.19C753.44,111.26 754.11,111.33 754.79,111.40C755.46,111.47 756.14,111.53 756.81,111.60C757.49,111.66 758.16,111.73 758.84,111.79C759.51,111.85 760.19,111.91 760.86,111.97C761.54,112.03 762.21,112.09 762.89,112.15C763.57,112.21 764.24,112.27 764.92,112.32C765.59,112.38 766.27,112.43 766.94,112.48C767.62,112.53 768.29,112.59 768.97,112.63C769.64,112.68 770.32,112.73 771.00,112.78C771.67,112.82 772.35,112.87 773.02,112.91C773.70,112.95 774.38,112.99 775.05,113.03C775.73,113.07 776.40,113.11 777.08,113.14C777.76,113.17 778.43,113.21 779.11,113.24C779.79,113.27 780.46,113.30 781.14,113.32C781.82,113.35 782.49,113.37 783.17,113.40C783.85,113.42 784.52,113.44 785.20,113.45C785.88,113.47 786.89,113.49 787.23,113.50" stroke="#ff0000" stroke-width="2.0" stroke-dasharray="9.6,5.4,2.5,5.3,9.6,5.5"/><path d="M564.60,144.95C564.80,144.64 565.34,143.61 565.79,143.08C566.25,142.55 566.77,142.13 567.31,141.77C567.86,141.41 568.46,141.15 569.06,140.94C569.66,140.72 570.30,140.59 570.93,140.50C571.56,140.40 572.20,140.37 572.84,140.37C573.49,140.37 574.14,140.42 574.80,140.49C575.45,140.55 576.12,140.65 576.79,140.76C577.45,140.86 578.13,140.99 578.80,141.10C579.48,141.22 580.16,141.34 580.85,141.45C581.53,141.56 582.22,141.66 582.91,141.75C583.60,141.84 584.30,141.92 584.99,141.99C585.68,142.05 586.37,142.10 587.06,142.13C587.75,142.16 588.44,142.17 589.13,142.16C589.81,142.14 590.49,142.11 591.17,142.04C591.85,141.98 592.52,141.89 593.18,141.76C593.84,141.64 594.50,141.49 595.15,141.31C595.80,141.14 596.44,140.93 597.07,140.70C597.70,140.47 598.32,140.22 598.92,139.94C599.53,139.66 600.13,139.35 600.71,139.02C601.29,138.70 601.86,138.35 602.41,137.98C602.96,137.61 603.50,137.22 604.02,136.81C604.53,136.40 605.04,135.97 605.53,135.52C606.01,135.08 606.49,134.61 606.94,134.13C607.40,133.65 607.84,133.15 608.27,132.64C608.70,132.13 609.11,131.61 609.52,131.07C609.92,130.53 610.31,129.98 610.68,129.42C611.06,128.86 611.42,128.29 611.77,127.71C612.13,127.13 612.47,126.54 612.80,125.94C613.13,125.35 613.45,124.74 613.76,124.13C614.07,123.52 614.37,122.90 614.66,122.28C614.95,121.66 615.24,121.04 615.51,120.41C615.79,119.78 616.05,119.15 616.31,118.52C616.57,117.89 616.82,117.26 617.07,116.63C617.32,116.00 617.56,115.36 617.79,114.73C618.02,114.09 618.25,113.46 618.48,112.82C618.70,112.19 618.92,111.55 619.13,110.92C619.35,110.28 619.56,109.64 619.77,109.01C619.98,108.37 620.18,107.73 620.39,107.09C620.59,106.45 620.79,105.81 620.99,105.17C621.19,104.53 621.39,103.89 621.58,103.25C621.78,102.61 621.98,101.97 622.18,101.33C622.37,100.69 622.57,100.05 622.77,99.40C622.97,98.76 623.17,98.12 623.37,97.48C623.56,96.83 623.76,96.19 623.96,95.55C624.16,94.90 624.36,94.26 624.56,93.62C624.75,92.97 624.95,92.33 625.15,91.68C625.34,91.04 625.54,90.39 625.74,89.75C625.93,89.10 626.13,88.46 626.32,87.81C626.51,87.17 626.70,86.52 626.90,85.88C627.09,85.23 627.28,84.58 627.46,83.94C627.65,83.29 627.84,82.64 628.02,82.00C628.21,81.35 628.39,80.70 628.57,80.06C628.75,79.41 628.93,78.76 629.11,78.12C629.29,77.47 629.46,76.82 629.63,76.17C629.80,75.53 629.97,74.88 630.14,74.23C630.31,73.58 630.48,72.93 630.66,72.29C630.83,71.64 631.00,70.99 631.18,70.34C631.35,69.69 631.53,69.05 631.72,68.40C631.90,67.75 632.09,67.10 632.29,66.45C632.49,65.80 632.69,65.16 632.90,64.51C633.11,63.86 633.33,63.21 633.55,62.56C633.77,61.91 634.00,61.27 634.23,60.62C634.45,59.97 634.67,59.32 634.90,58.67C635.12,58.02 635.34,57.38 635.56,56.73C635.79,56.09 636.01,55.44 636.24,54.80C636.47,54.16 636.71,53.52 636.96,52.89C637.21,52.26 637.46,51.63 637.74,51.02C638.01,50.40 638.30,49.78 638.61,49.18C638.91,48.57 639.24,47.98 639.59,47.39C639.94,46.81 640.31,46.22 640.71,45.67C641.11,45.12 641.54,44.57 642.00,44.10C642.46,43.64 642.95,43.20 643.47,42.88C644.00,42.56 644.57,42.31 645.16,42.18C645.75,42.04 646.39,42.01 647.02,42.07C647.64,42.12 648.30,42.28 648.92,42.50C649.54,42.72 650.16,43.04 650.74,43.39C651.31,43.75 651.87,44.18 652.39,44.62C652.91,45.05 653.39,45.52 653.85,46.00C654.31,46.47 654.73,46.97 655.14,47.48C655.55,47.99 655.94,48.52 656.31,49.06C656.68,49.61 657.03,50.16 657.38,50.73C657.72,51.29 658.05,51.87 658.39,52.46C658.72,53.05 659.04,53.65 659.37,54.25C659.69,54.85 660.02,55.46 660.34,56.08C660.66,56.69 660.98,57.31 661.30,57.93C661.61,58.55 661.93,59.18 662.25,59.80C662.56,60.42 662.88,61.05 663.19,61.67C663.51,62.29 663.82,62.91 664.14,63.53C664.46,64.14 664.77,64.75 665.09,65.36C665.41,65.97 665.73,66.57 666.05,67.16C666.37,67.76 666.69,68.35 667.01,68.94C667.33,69.53 667.65,70.11 667.97,70.70C668.30,71.28 668.62,71.86 668.95,72.44C669.27,73.01 669.60,73.59 669.93,74.16C670.26,74.74 670.59,75.31 670.92,75.88C671.25,76.45 671.58,77.02 671.92,77.59C672.25,78.16 672.59,78.73 672.92,79.30C673.26,79.87 673.60,80.44 673.94,81.02C674.28,81.59 674.62,82.16 674.96,82.73C675.31,83.31 675.65,83.88 676.00,84.45C676.35,85.03 676.70,85.60 677.06,86.17C677.41,86.75 677.77,87.32 678.13,87.89C678.49,88.46 678.85,89.03 679.22,89.60C679.58,90.17 679.95,90.74 680.33,91.30C680.70,91.87 681.08,92.43 681.46,92.99C681.85,93.55 682.23,94.11 682.62,94.66C683.02,95.22 683.41,95.77 683.81,96.32C684.21,96.86 684.62,97.41 685.03,97.95C685.45,98.49 685.86,99.02 686.29,99.55C686.71,100.09 687.14,100.61 687.57,101.13C688.01,101.65 688.45,102.17 688.90,102.68C689.35,103.19 689.80,103.69 690.26,104.19C690.72,104.69 691.19,105.18 691.66,105.66C692.14,106.15 692.62,106.63 693.10,107.10C693.59,107.57 694.08,108.03 694.58,108.49C695.08,108.94 695.59,109.39 696.10,109.83C696.61,110.27 697.13,110.70 697.65,111.12C698.17,111.54 698.70,111.96 699.24,112.36C699.78,112.76 700.32,113.16 700.87,113.54C701.41,113.92 701.97,114.30 702.53,114.66C703.09,115.03 703.66,115.38 704.23,115.72C704.80,116.07 705.38,116.40 705.96,116.72C706.54,117.05 707.13,117.36 707.73,117.66C708.32,117.97 708.92,118.26 709.52,118.55C710.12,118.83 710.73,119.11 711.35,119.37C711.96,119.64 712.58,119.90 713.20,120.15C713.82,120.39 714.44,120.63 715.07,120.86C715.70,121.09 716.34,121.32 716.97,121.53C717.61,121.74 718.25,121.95 718.89,122.15C719.54,122.34 720.18,122.53 720.83,122.71C721.48,122.89 722.13,123.07 722.79,123.23C723.44,123.40 724.10,123.56 724.76,123.71C725.42,123.86 726.09,124.00 726.75,124.13C727.41,124.27 728.08,124.40 728.75,124.52C729.42,124.64 730.09,124.76 730.76,124.87C731.43,124.97 732.10,125.07 732.78,125.17C733.45,125.26 734.12,125.35 734.80,125.44C735.47,125.52 736.15,125.59 736.83,125.66C737.50,125.74 738.18,125.80 738.86,125.86C739.54,125.92 740.21,125.97 740.89,126.02C741.57,126.07 742.25,126.11 742.92,126.14C743.60,126.18 744.28,126.21 744.95,126.24C745.63,126.27 746.30,126.29 746.98,126.31C747.65,126.32 748.33,126.34 749.00,126.34C749.67,126.35 750.34,126.36 751.02,126.36C751.69,126.36 752.36,126.35 753.03,126.34C753.70,126.33 754.37,126.32 755.04,126.30C755.71,126.29 756.38,126.27 757.05,126.25C757.72,126.22 758.39,126.19 759.06,126.16C759.73,126.13 760.40,126.10 761.07,126.07C761.74,126.03 762.41,125.99 763.08,125.95C763.74,125.91 764.41,125.86 765.08,125.82C765.75,125.77 766.42,125.72 767.09,125.67C767.76,125.62 768.42,125.56 769.09,125.51C769.76,125.45 770.43,125.39 771.10,125.33C771.77,125.27 772.44,125.21 773.11,125.15C773.78,125.09 774.45,125.02 775.12,124.96C775.79,124.89 776.46,124.82 777.13,124.76C777.80,124.69 778.47,124.62 779.14,124.55C779.82,124.48 780.49,124.41 781.16,124.34C781.83,124.27 782.51,124.20 783.18,124.13C783.85,124.06 784.53,123.99 785.20,123.92C785.88,123.85 786.89,123.74 787.23,123.70" stroke="#0000ff" stroke-width="2.0" stroke-dasharray="13.8,5.2"/></g>
<path d="M592.43,144.95v-6.3M592.43,18.35v6.3M620.26,144.95v-12.4M620.26,18.35v12.4M648.09,144.95v-6.3M648.09,18.35v6.3M675.91,144.95v-12.4M675.91,18.35v12.4M703.74,144.95v-6.3M703.74,18.35v6.3M731.57,144.95v-12.4M731.57,18.35v12.4M759.40,144.95v-6.3M759.40,18.35v6.3M564.6,123.85h6.3M787.23,123.85h-6.3M564.6,102.75h12.4M787.23,102.75h-12.4M564.6,81.65h6.3M787.23,81.65h-6.3M564.6,60.55h12.4M787.23,60.55h-12.4M564.6,39.45h6.3M787.23,39.45h-6.3" stroke="#000" stroke-width="1.4" fill="none"/>
<rect x="564.6" y="18.35" width="222.63" height="126.6" fill="none" stroke="#000" stroke-width="1.5"/>
<text transform="translate(564.60,164.55) scale(1,1.08)" font-size="17.6" text-anchor="middle" fill="#000">0</text>
<text transform="translate(620.26,164.55) scale(1,1.08)" font-size="17.6" text-anchor="middle" fill="#000">500</text>
<text transform="translate(675.91,164.55) scale(1,1.08)" font-size="17.6" text-anchor="middle" fill="#000">1000</text>
<text transform="translate(731.57,164.55) scale(1,1.08)" font-size="17.6" text-anchor="middle" fill="#000">1500</text>
<text transform="translate(558.00,151.95) scale(1,1.08)" font-size="17.6" text-anchor="end" fill="#000">0</text>
<text transform="translate(558.00,109.15) scale(1,1.08)" font-size="17.6" text-anchor="end" fill="#000">0.2</text>
<text transform="translate(558.00,66.55) scale(1,1.08)" font-size="17.6" text-anchor="end" fill="#000">0.4</text>
<use href="#om" x="676.06" y="0"/>
<text transform="translate(758.43,50.55) scale(1,1.08)" font-size="17.6" text-anchor="end" fill="#ff0000">x = 0.075</text>
<clipPath id="c3"><rect x="55.35" y="177.3" width="222.63" height="126.6"/></clipPath>
<g clip-path="url(#c3)" fill="none" stroke-linecap="butt" stroke-linejoin="round"><path d="M55.34,303.89C55.65,303.74 56.58,303.29 57.20,302.99C57.82,302.70 58.44,302.41 59.06,302.12C59.69,301.83 60.31,301.54 60.93,301.26C61.55,300.97 62.18,300.69 62.80,300.42C63.43,300.14 64.05,299.86 64.68,299.59C65.30,299.32 65.93,299.05 66.56,298.79C67.18,298.52 67.81,298.26 68.44,298.00C69.07,297.74 69.70,297.48 70.33,297.23C70.96,296.97 71.59,296.72 72.22,296.47C72.85,296.23 73.48,295.98 74.11,295.74C74.74,295.49 75.38,295.25 76.01,295.02C76.64,294.78 77.28,294.54 77.91,294.31C78.55,294.08 79.18,293.85 79.82,293.62C80.45,293.39 81.09,293.17 81.73,292.94C82.36,292.72 83.00,292.50 83.64,292.28C84.28,292.07 84.92,291.85 85.56,291.64C86.19,291.42 86.83,291.21 87.47,291.00C88.12,290.80 88.76,290.59 89.40,290.39C90.04,290.18 90.68,289.98 91.32,289.78C91.97,289.58 92.61,289.38 93.25,289.19C93.90,288.99 94.54,288.80 95.19,288.61C95.83,288.41 96.48,288.23 97.12,288.04C97.77,287.85 98.41,287.67 99.06,287.48C99.71,287.30 100.35,287.12 101.00,286.94C101.65,286.76 102.30,286.58 102.95,286.40C103.60,286.23 104.25,286.05 104.89,285.88C105.54,285.71 106.19,285.54 106.85,285.37C107.50,285.20 108.15,285.03 108.80,284.86C109.45,284.70 110.10,284.53 110.76,284.37C111.41,284.21 112.06,284.05 112.71,283.89C113.37,283.73 114.02,283.57 114.68,283.41C115.33,283.25 115.99,283.10 116.64,282.95C117.30,282.79 117.95,282.64 118.61,282.49C119.26,282.34 119.92,282.19 120.58,282.04C121.24,281.89 121.89,281.74 122.55,281.59C123.21,281.45 123.87,281.30 124.53,281.16C125.18,281.01 125.84,280.87 126.50,280.73C127.16,280.59 127.82,280.45 128.48,280.31C129.14,280.17 129.80,280.03 130.46,279.89C131.12,279.75 131.79,279.62 132.45,279.48C133.11,279.35 133.77,279.21 134.43,279.08C135.10,278.94 135.76,278.81 136.42,278.68C137.09,278.54 137.75,278.41 138.41,278.28C139.08,278.15 139.74,278.02 140.41,277.89C141.07,277.76 141.73,277.63 142.40,277.51C143.07,277.38 143.73,277.25 144.40,277.13C145.06,277.00 145.73,276.88 146.39,276.75C147.06,276.63 147.73,276.51 148.40,276.39C149.06,276.26 149.73,276.14 150.40,276.02C151.06,275.90 151.73,275.79 152.40,275.67C153.07,275.55 153.74,275.43 154.41,275.32C155.08,275.20 155.74,275.09 156.41,274.97C157.08,274.86 157.75,274.75 158.42,274.63C159.09,274.52 159.76,274.41 160.43,274.30C161.10,274.19 161.77,274.08 162.44,273.98C163.12,273.87 163.79,273.76 164.46,273.66C165.13,273.55 165.80,273.45 166.47,273.35C167.14,273.24 167.82,273.14 168.49,273.04C169.16,272.94 169.83,272.84 170.51,272.74C171.18,272.64 171.85,272.55 172.52,272.45C173.20,272.35 173.87,272.26 174.54,272.17C175.22,272.07 175.89,271.98 176.57,271.89C177.24,271.80 177.91,271.71 178.59,271.62C179.26,271.53 179.94,271.44 180.61,271.36C181.29,271.27 181.96,271.19 182.63,271.10C183.31,271.02 183.98,270.94 184.66,270.86C185.34,270.78 186.01,270.70 186.69,270.62C187.36,270.54 188.04,270.46 188.71,270.39C189.39,270.31 190.06,270.24 190.74,270.16C191.42,270.09 192.09,270.02 192.77,269.95C193.45,269.88 194.12,269.81 194.80,269.75C195.47,269.68 196.15,269.61 196.83,269.55C197.50,269.48 198.18,269.42 198.86,269.36C199.53,269.30 200.21,269.24 200.89,269.18C201.57,269.12 202.24,269.06 202.92,269.01C203.60,268.95 204.27,268.90 204.95,268.85C205.63,268.79 206.31,268.74 206.98,268.69C207.66,268.65 208.34,268.60 209.02,268.55C209.69,268.50 210.37,268.46 211.05,268.42C211.73,268.37 212.41,268.33 213.08,268.29C213.76,268.25 214.44,268.21 215.12,268.17C215.79,268.13 216.47,268.10 217.15,268.06C217.83,268.03 218.51,267.99 219.18,267.96C219.86,267.93 220.54,267.90 221.22,267.87C221.90,267.84 222.57,267.81 223.25,267.79C223.93,267.76 224.61,267.73 225.28,267.71C225.96,267.69 226.64,267.66 227.32,267.64C228.00,267.62 228.67,267.60 229.35,267.58C230.03,267.57 230.71,267.55 231.38,267.53C232.06,267.52 232.74,267.50 233.42,267.49C234.10,267.47 234.77,267.46 235.45,267.45C236.13,267.44 236.81,267.43 237.48,267.42C238.16,267.42 238.84,267.41 239.51,267.40C240.19,267.40 240.87,267.39 241.55,267.39C242.22,267.39 242.90,267.38 243.58,267.38C244.25,267.38 244.93,267.38 245.61,267.38C246.28,267.38 246.96,267.39 247.64,267.39C248.31,267.39 248.99,267.40 249.67,267.41C250.34,267.41 251.02,267.42 251.69,267.43C252.37,267.44 253.05,267.45 253.72,267.46C254.40,267.47 255.07,267.48 255.75,267.49C256.42,267.51 257.10,267.52 257.78,267.53C258.45,267.55 259.13,267.57 259.80,267.58C260.48,267.60 261.15,267.62 261.82,267.64C262.50,267.66 263.17,267.68 263.85,267.70C264.52,267.72 265.20,267.74 265.87,267.77C266.54,267.79 267.22,267.82 267.89,267.84C268.56,267.87 269.24,267.90 269.91,267.92C270.58,267.95 271.26,267.98 271.93,268.01C272.60,268.04 273.27,268.07 273.95,268.10C274.62,268.13 275.29,268.17 275.96,268.20C276.63,268.23 277.64,268.29 277.98,268.30" stroke="#000" stroke-width="2.0"/><path d="M55.34,303.89C55.66,303.75 56.62,303.29 57.26,303.01C57.91,302.72 58.55,302.46 59.19,302.21C59.84,301.95 60.48,301.71 61.13,301.49C61.77,301.26 62.42,301.05 63.07,300.84C63.71,300.64 64.36,300.45 65.01,300.27C65.66,300.08 66.31,299.91 66.96,299.75C67.61,299.59 68.26,299.44 68.92,299.29C69.57,299.15 70.22,299.01 70.87,298.88C71.53,298.75 72.18,298.63 72.83,298.51C73.49,298.40 74.14,298.29 74.80,298.18C75.45,298.08 76.11,297.98 76.76,297.88C77.42,297.78 78.07,297.69 78.73,297.60C79.39,297.51 80.04,297.43 80.70,297.34C81.36,297.26 82.01,297.18 82.67,297.10C83.33,297.02 83.98,296.94 84.64,296.87C85.30,296.79 85.95,296.72 86.61,296.64C87.27,296.57 87.92,296.50 88.58,296.42C89.24,296.35 89.89,296.28 90.55,296.20C91.21,296.13 91.86,296.05 92.52,295.98C93.18,295.90 93.83,295.82 94.49,295.74C95.14,295.66 95.80,295.58 96.46,295.49C97.11,295.41 97.77,295.32 98.42,295.23C99.07,295.14 99.73,295.04 100.38,294.94C101.04,294.84 101.69,294.74 102.34,294.63C103.00,294.52 103.65,294.41 104.30,294.29C104.95,294.17 105.60,294.04 106.25,293.91C106.91,293.78 107.56,293.65 108.21,293.51C108.86,293.37 109.50,293.23 110.15,293.08C110.80,292.93 111.45,292.78 112.10,292.62C112.75,292.46 113.40,292.30 114.04,292.14C114.69,291.97 115.34,291.80 115.98,291.63C116.63,291.46 117.28,291.28 117.92,291.10C118.57,290.92 119.21,290.74 119.86,290.55C120.51,290.36 121.15,290.17 121.80,289.98C122.44,289.79 123.09,289.59 123.73,289.39C124.37,289.20 125.02,289.00 125.66,288.79C126.31,288.59 126.95,288.38 127.59,288.18C128.24,287.97 128.88,287.76 129.53,287.55C130.17,287.34 130.81,287.12 131.46,286.91C132.10,286.69 132.74,286.48 133.38,286.26C134.03,286.04 134.67,285.82 135.31,285.60C135.96,285.38 136.60,285.16 137.24,284.94C137.89,284.72 138.53,284.50 139.17,284.27C139.82,284.05 140.46,283.83 141.10,283.60C141.74,283.38 142.39,283.15 143.03,282.93C143.67,282.71 144.32,282.48 144.96,282.26C145.61,282.04 146.25,281.81 146.89,281.59C147.54,281.37 148.18,281.14 148.82,280.92C149.47,280.70 150.11,280.48 150.76,280.26C151.40,280.04 152.05,279.82 152.69,279.61C153.34,279.39 153.98,279.17 154.63,278.96C155.27,278.75 155.92,278.53 156.57,278.32C157.21,278.11 157.86,277.90 158.51,277.69C159.15,277.48 159.80,277.28 160.45,277.07C161.09,276.87 161.74,276.67 162.39,276.46C163.04,276.26 163.68,276.06 164.33,275.87C164.98,275.67 165.63,275.47 166.28,275.28C166.93,275.08 167.58,274.89 168.22,274.70C168.87,274.51 169.52,274.32 170.17,274.14C170.82,273.95 171.47,273.77 172.12,273.58C172.77,273.40 173.42,273.22 174.08,273.05C174.73,272.87 175.38,272.69 176.03,272.52C176.68,272.35 177.33,272.17 177.98,272.01C178.64,271.84 179.29,271.67 179.94,271.51C180.59,271.34 181.25,271.18 181.90,271.02C182.55,270.86 183.21,270.71 183.86,270.55C184.51,270.40 185.17,270.25 185.82,270.10C186.48,269.95 187.13,269.80 187.78,269.66C188.44,269.51 189.09,269.37 189.75,269.23C190.41,269.10 191.06,268.96 191.72,268.83C192.37,268.69 193.03,268.56 193.69,268.44C194.34,268.31 195.00,268.19 195.66,268.06C196.31,267.94 196.97,267.83 197.63,267.71C198.28,267.59 198.94,267.48 199.60,267.37C200.26,267.26 200.92,267.16 201.58,267.06C202.23,266.95 202.89,266.85 203.55,266.76C204.21,266.66 204.87,266.57 205.53,266.48C206.19,266.39 206.85,266.30 207.51,266.22C208.17,266.14 208.83,266.06 209.49,265.98C210.16,265.90 210.82,265.83 211.48,265.76C212.14,265.69 212.80,265.63 213.46,265.56C214.13,265.50 214.79,265.44 215.45,265.38C216.11,265.33 216.78,265.28 217.44,265.23C218.10,265.17 218.77,265.13 219.43,265.08C220.10,265.04 220.76,265.00 221.43,264.96C222.09,264.92 222.76,264.89 223.42,264.85C224.09,264.82 224.75,264.79 225.42,264.77C226.08,264.74 226.75,264.71 227.42,264.69C228.08,264.67 228.75,264.65 229.42,264.63C230.08,264.62 230.75,264.60 231.42,264.59C232.08,264.58 232.75,264.57 233.42,264.56C234.09,264.55 234.76,264.54 235.43,264.54C236.10,264.54 236.76,264.53 237.43,264.53C238.10,264.53 238.77,264.54 239.44,264.54C240.11,264.54 240.78,264.55 241.45,264.56C242.13,264.56 242.80,264.57 243.47,264.59C244.14,264.60 244.81,264.61 245.48,264.62C246.15,264.64 246.83,264.65 247.50,264.67C248.17,264.69 248.85,264.70 249.52,264.72C250.19,264.74 250.87,264.76 251.54,264.79C252.21,264.81 252.89,264.83 253.56,264.86C254.24,264.88 254.91,264.91 255.59,264.93C256.26,264.96 256.94,264.99 257.61,265.01C258.29,265.04 258.96,265.07 259.64,265.10C260.32,265.13 260.99,265.16 261.67,265.19C262.35,265.22 263.03,265.25 263.70,265.29C264.38,265.32 265.06,265.35 265.74,265.38C266.42,265.42 267.09,265.45 267.77,265.48C268.45,265.52 269.13,265.55 269.81,265.59C270.49,265.62 271.17,265.66 271.85,265.69C272.53,265.72 273.21,265.76 273.89,265.79C274.57,265.83 275.26,265.86 275.94,265.90C276.62,265.93 277.64,265.98 277.98,266.00" stroke="#ff0000" stroke-width="2.0" stroke-dasharray="9.6,5.4,2.5,5.3,9.6,5.5"/><path d="M55.34,303.89C55.60,303.63 56.36,302.74 56.89,302.28C57.42,301.82 57.97,301.46 58.54,301.15C59.10,300.84 59.68,300.61 60.27,300.42C60.86,300.24 61.47,300.12 62.08,300.04C62.70,299.95 63.32,299.92 63.95,299.91C64.58,299.89 65.22,299.92 65.86,299.96C66.50,300.00 67.15,300.07 67.80,300.14C68.45,300.22 69.11,300.32 69.77,300.42C70.42,300.52 71.09,300.64 71.75,300.76C72.42,300.88 73.09,301.01 73.76,301.14C74.44,301.27 75.11,301.41 75.79,301.54C76.47,301.67 77.15,301.81 77.83,301.93C78.51,302.05 79.19,302.17 79.88,302.28C80.56,302.39 81.24,302.49 81.93,302.57C82.62,302.65 83.30,302.72 83.99,302.77C84.67,302.81 85.36,302.84 86.04,302.85C86.73,302.86 87.41,302.85 88.10,302.81C88.78,302.78 89.46,302.73 90.13,302.65C90.81,302.58 91.48,302.48 92.15,302.37C92.81,302.25 93.48,302.12 94.13,301.96C94.79,301.81 95.44,301.64 96.08,301.44C96.72,301.25 97.36,301.03 97.98,300.80C98.61,300.57 99.22,300.31 99.83,300.04C100.44,299.77 101.03,299.47 101.62,299.16C102.20,298.85 102.77,298.52 103.33,298.17C103.89,297.82 104.44,297.46 104.98,297.07C105.51,296.68 106.03,296.28 106.55,295.86C107.06,295.44 107.56,295.01 108.05,294.56C108.54,294.11 109.02,293.65 109.49,293.17C109.96,292.70 110.42,292.21 110.87,291.71C111.32,291.22 111.76,290.71 112.20,290.19C112.64,289.68 113.07,289.15 113.49,288.62C113.91,288.09 114.33,287.55 114.74,287.01C115.15,286.46 115.55,285.91 115.95,285.36C116.35,284.81 116.75,284.25 117.14,283.70C117.53,283.14 117.92,282.58 118.31,282.02C118.69,281.47 119.07,280.91 119.45,280.35C119.83,279.79 120.21,279.23 120.59,278.68C120.96,278.12 121.34,277.56 121.71,277.00C122.08,276.45 122.45,275.89 122.81,275.33C123.18,274.77 123.55,274.21 123.91,273.65C124.28,273.10 124.64,272.54 125.00,271.98C125.36,271.42 125.72,270.86 126.08,270.30C126.44,269.74 126.80,269.18 127.16,268.61C127.52,268.05 127.87,267.49 128.23,266.93C128.59,266.36 128.94,265.80 129.30,265.24C129.65,264.67 130.01,264.10 130.37,263.54C130.72,262.97 131.08,262.40 131.43,261.83C131.79,261.26 132.14,260.69 132.50,260.12C132.86,259.55 133.21,258.98 133.57,258.40C133.93,257.83 134.29,257.25 134.65,256.67C135.01,256.10 135.37,255.52 135.74,254.94C136.10,254.37 136.47,253.80 136.84,253.23C137.22,252.66 137.60,252.09 137.98,251.53C138.37,250.97 138.76,250.41 139.17,249.86C139.57,249.32 139.98,248.77 140.40,248.24C140.82,247.71 141.25,247.19 141.69,246.68C142.13,246.17 142.58,245.67 143.05,245.18C143.52,244.69 144.00,244.22 144.49,243.76C144.99,243.30 145.50,242.86 146.03,242.43C146.55,242.00 147.10,241.59 147.65,241.21C148.21,240.82 148.78,240.45 149.36,240.12C149.95,239.78 150.54,239.47 151.15,239.19C151.75,238.91 152.37,238.67 153.00,238.46C153.62,238.25 154.25,238.08 154.89,237.96C155.53,237.83 156.18,237.74 156.83,237.69C157.47,237.64 158.13,237.63 158.78,237.65C159.43,237.68 160.08,237.74 160.72,237.83C161.37,237.93 162.02,238.06 162.65,238.22C163.29,238.39 163.92,238.59 164.54,238.81C165.17,239.03 165.78,239.29 166.39,239.57C167.00,239.85 167.61,240.15 168.21,240.47C168.80,240.79 169.40,241.13 169.99,241.48C170.58,241.83 171.16,242.19 171.74,242.56C172.33,242.93 172.90,243.31 173.48,243.68C174.06,244.06 174.63,244.44 175.20,244.82C175.77,245.19 176.34,245.57 176.91,245.94C177.48,246.32 178.05,246.69 178.61,247.06C179.18,247.44 179.74,247.81 180.31,248.18C180.87,248.55 181.43,248.92 181.99,249.28C182.55,249.65 183.11,250.02 183.67,250.39C184.23,250.76 184.79,251.13 185.35,251.49C185.91,251.86 186.47,252.23 187.03,252.60C187.58,252.96 188.14,253.33 188.70,253.70C189.26,254.07 189.82,254.44 190.38,254.80C190.94,255.17 191.50,255.54 192.06,255.91C192.62,256.28 193.18,256.65 193.74,257.01C194.31,257.38 194.87,257.75 195.43,258.11C196.00,258.48 196.56,258.84 197.13,259.20C197.70,259.56 198.27,259.92 198.84,260.27C199.41,260.62 199.98,260.97 200.56,261.32C201.13,261.67 201.71,262.01 202.29,262.35C202.87,262.69 203.45,263.02 204.03,263.35C204.62,263.68 205.21,264.01 205.80,264.32C206.39,264.64 206.98,264.95 207.57,265.26C208.17,265.57 208.77,265.87 209.37,266.16C209.97,266.45 210.57,266.74 211.18,267.03C211.79,267.31 212.39,267.58 213.01,267.86C213.62,268.13 214.23,268.39 214.85,268.65C215.46,268.91 216.08,269.17 216.71,269.42C217.33,269.67 217.95,269.91 218.58,270.15C219.20,270.39 219.83,270.62 220.46,270.85C221.09,271.08 221.72,271.30 222.36,271.52C222.99,271.73 223.63,271.95 224.26,272.15C224.90,272.36 225.54,272.56 226.18,272.76C226.82,272.96 227.47,273.15 228.11,273.34C228.76,273.53 229.41,273.71 230.05,273.89C230.70,274.07 231.35,274.24 232.00,274.41C232.65,274.58 233.31,274.75 233.96,274.91C234.62,275.07 235.27,275.23 235.93,275.38C236.58,275.53 237.24,275.68 237.90,275.82C238.56,275.97 239.22,276.10 239.88,276.24C240.54,276.38 241.21,276.51 241.87,276.63C242.53,276.76 243.20,276.88 243.86,277.00C244.53,277.12 245.19,277.24 245.86,277.35C246.53,277.46 247.19,277.57 247.86,277.67C248.53,277.78 249.20,277.88 249.87,277.98C250.54,278.07 251.21,278.17 251.88,278.26C252.55,278.35 253.22,278.44 253.89,278.52C254.56,278.60 255.23,278.68 255.90,278.76C256.57,278.84 257.24,278.91 257.91,278.98C258.59,279.05 259.26,279.12 259.93,279.19C260.60,279.25 261.27,279.31 261.94,279.37C262.61,279.43 263.29,279.49 263.96,279.54C264.63,279.59 265.30,279.64 265.97,279.69C266.64,279.74 267.31,279.79 267.98,279.83C268.65,279.87 269.32,279.91 269.99,279.95C270.66,279.99 271.32,280.02 271.99,280.06C272.66,280.09 273.32,280.12 273.99,280.15C274.66,280.18 275.32,280.20 275.99,280.23C276.65,280.25 277.65,280.29 277.98,280.30" stroke="#0000ff" stroke-width="2.0" stroke-dasharray="13.8,5.2"/></g>
<path d="M83.18,303.9v-6.3M83.18,177.3v6.3M111.01,303.9v-12.4M111.01,177.3v12.4M138.84,303.9v-6.3M138.84,177.3v6.3M166.66,303.9v-12.4M166.66,177.3v12.4M194.49,303.9v-6.3M194.49,177.3v6.3M222.32,303.9v-12.4M222.32,177.3v12.4M250.15,303.9v-6.3M250.15,177.3v6.3M55.35,282.80h6.3M277.98,282.80h-6.3M55.35,261.70h12.4M277.98,261.70h-12.4M55.35,240.60h6.3M277.98,240.60h-6.3M55.35,219.50h12.4M277.98,219.50h-12.4M55.35,198.40h6.3M277.98,198.40h-6.3" stroke="#000" stroke-width="1.4" fill="none"/>
<rect x="55.35" y="177.3" width="222.63" height="126.6" fill="none" stroke="#000" stroke-width="1.5"/>
<text transform="translate(55.35,323.50) scale(1,1.08)" font-size="17.6" text-anchor="middle" fill="#000">0</text>
<text transform="translate(111.01,323.50) scale(1,1.08)" font-size="17.6" text-anchor="middle" fill="#000">500</text>
<text transform="translate(166.66,323.50) scale(1,1.08)" font-size="17.6" text-anchor="middle" fill="#000">1000</text>
<text transform="translate(222.32,323.50) scale(1,1.08)" font-size="17.6" text-anchor="middle" fill="#000">1500</text>
<text transform="translate(48.75,310.90) scale(1,1.08)" font-size="17.6" text-anchor="end" fill="#000">0</text>
<text transform="translate(48.75,268.10) scale(1,1.08)" font-size="17.6" text-anchor="end" fill="#000">0.2</text>
<text transform="translate(48.75,225.50) scale(1,1.08)" font-size="17.6" text-anchor="end" fill="#000">0.4</text>
<use href="#om" x="167.06" y="327.0"/>
<text transform="translate(250.28,209.50) scale(1,1.08)" font-size="17.6" text-anchor="end" fill="#0a980a">x = 0.053</text>
<clipPath id="c4"><rect x="310.0" y="177.3" width="222.63" height="126.6"/></clipPath>
<g clip-path="url(#c4)" fill="none" stroke-linecap="butt" stroke-linejoin="round"><path d="M309.99,303.89C310.32,303.81 311.33,303.54 311.99,303.37C312.66,303.21 313.33,303.04 313.99,302.88C314.66,302.72 315.33,302.57 315.99,302.41C316.66,302.26 317.33,302.11 317.99,301.97C318.66,301.82 319.33,301.68 319.99,301.54C320.66,301.40 321.32,301.27 321.99,301.14C322.65,301.00 323.32,300.88 323.98,300.75C324.65,300.62 325.31,300.50 325.98,300.38C326.64,300.26 327.31,300.14 327.97,300.03C328.63,299.91 329.30,299.80 329.96,299.69C330.63,299.58 331.29,299.47 331.95,299.37C332.62,299.26 333.28,299.16 333.94,299.06C334.61,298.96 335.27,298.86 335.93,298.76C336.60,298.66 337.26,298.56 337.92,298.47C338.58,298.37 339.25,298.28 339.91,298.19C340.57,298.09 341.23,298.00 341.90,297.91C342.56,297.82 343.22,297.73 343.88,297.64C344.54,297.55 345.21,297.47 345.87,297.38C346.53,297.29 347.19,297.21 347.85,297.12C348.51,297.03 349.17,296.95 349.83,296.86C350.50,296.78 351.16,296.69 351.82,296.60C352.48,296.52 353.14,296.43 353.80,296.35C354.46,296.26 355.12,296.17 355.78,296.09C356.44,296.00 357.10,295.91 357.76,295.82C358.42,295.74 359.08,295.65 359.74,295.56C360.40,295.47 361.06,295.38 361.72,295.29C362.38,295.19 363.04,295.10 363.70,295.01C364.36,294.92 365.02,294.82 365.68,294.73C366.34,294.63 367.00,294.54 367.65,294.44C368.31,294.34 368.97,294.24 369.63,294.14C370.29,294.05 370.95,293.95 371.61,293.84C372.27,293.74 372.93,293.64 373.58,293.54C374.24,293.44 374.90,293.33 375.56,293.23C376.22,293.12 376.88,293.01 377.54,292.91C378.19,292.80 378.85,292.69 379.51,292.58C380.17,292.47 380.83,292.36 381.49,292.25C382.14,292.14 382.80,292.02 383.46,291.91C384.12,291.80 384.78,291.68 385.43,291.56C386.09,291.45 386.75,291.33 387.41,291.21C388.07,291.09 388.72,290.97 389.38,290.85C390.04,290.72 390.70,290.60 391.36,290.48C392.01,290.35 392.67,290.23 393.33,290.10C393.99,289.97 394.64,289.84 395.30,289.71C395.96,289.58 396.62,289.45 397.27,289.32C397.93,289.19 398.59,289.05 399.25,288.92C399.91,288.78 400.56,288.64 401.22,288.50C401.88,288.36 402.54,288.22 403.19,288.08C403.85,287.94 404.51,287.80 405.17,287.65C405.82,287.51 406.48,287.36 407.14,287.22C407.80,287.07 408.45,286.92 409.11,286.77C409.77,286.62 410.43,286.47 411.08,286.32C411.74,286.17 412.40,286.01 413.06,285.86C413.72,285.71 414.37,285.55 415.03,285.40C415.69,285.24 416.35,285.09 417.00,284.93C417.66,284.77 418.32,284.61 418.98,284.46C419.64,284.30 420.29,284.14 420.95,283.98C421.61,283.82 422.27,283.66 422.93,283.50C423.58,283.34 424.24,283.18 424.90,283.02C425.56,282.86 426.22,282.70 426.87,282.54C427.53,282.38 428.19,282.22 428.85,282.06C429.51,281.90 430.17,281.74 430.82,281.58C431.48,281.42 432.14,281.26 432.80,281.10C433.46,280.94 434.12,280.78 434.78,280.62C435.43,280.46 436.09,280.30 436.75,280.14C437.41,279.98 438.07,279.82 438.73,279.66C439.39,279.51 440.05,279.35 440.71,279.19C441.36,279.04 442.02,278.88 442.68,278.73C443.34,278.57 444.00,278.42 444.66,278.26C445.32,278.11 445.98,277.96 446.64,277.81C447.30,277.66 447.96,277.51 448.62,277.36C449.28,277.21 449.94,277.06 450.60,276.91C451.26,276.77 451.92,276.62 452.58,276.48C453.24,276.33 453.90,276.19 454.56,276.05C455.22,275.91 455.88,275.77 456.54,275.63C457.20,275.49 457.86,275.36 458.53,275.22C459.19,275.09 459.85,274.96 460.51,274.83C461.17,274.70 461.83,274.57 462.49,274.44C463.15,274.31 463.82,274.19 464.48,274.06C465.14,273.94 465.80,273.82 466.46,273.70C467.13,273.58 467.79,273.47 468.45,273.35C469.11,273.24 469.78,273.13 470.44,273.02C471.10,272.91 471.76,272.80 472.43,272.69C473.09,272.59 473.75,272.48 474.42,272.38C475.08,272.28 475.74,272.18 476.41,272.08C477.07,271.98 477.73,271.89 478.40,271.79C479.06,271.70 479.72,271.61 480.39,271.52C481.05,271.43 481.72,271.34 482.38,271.26C483.05,271.17 483.71,271.09 484.38,271.00C485.04,270.92 485.71,270.84 486.37,270.76C487.04,270.68 487.70,270.61 488.37,270.53C489.03,270.46 489.70,270.39 490.37,270.31C491.03,270.24 491.70,270.17 492.37,270.11C493.03,270.04 493.70,269.97 494.37,269.91C495.03,269.84 495.70,269.78 496.37,269.72C497.03,269.66 497.70,269.60 498.37,269.54C499.04,269.49 499.70,269.43 500.37,269.38C501.04,269.32 501.71,269.27 502.38,269.22C503.05,269.17 503.72,269.12 504.38,269.07C505.05,269.02 505.72,268.98 506.39,268.93C507.06,268.89 507.73,268.85 508.40,268.81C509.07,268.76 509.74,268.72 510.41,268.68C511.08,268.65 511.75,268.61 512.42,268.57C513.09,268.54 513.77,268.50 514.44,268.47C515.11,268.44 515.78,268.41 516.45,268.38C517.12,268.35 517.80,268.32 518.47,268.29C519.14,268.26 519.81,268.24 520.49,268.21C521.16,268.19 521.83,268.16 522.51,268.14C523.18,268.12 523.85,268.10 524.53,268.08C525.20,268.06 525.88,268.04 526.55,268.02C527.23,268.01 527.90,267.99 528.58,267.98C529.25,267.96 529.93,267.95 530.60,267.94C531.28,267.92 532.29,267.91 532.63,267.90" stroke="#000" stroke-width="2.0"/><path d="M309.98,303.89C310.31,303.76 311.30,303.33 311.96,303.08C312.61,302.84 313.27,302.62 313.93,302.43C314.59,302.23 315.25,302.06 315.91,301.91C316.57,301.75 317.23,301.62 317.89,301.51C318.55,301.40 319.21,301.30 319.88,301.22C320.54,301.15 321.20,301.09 321.86,301.04C322.52,300.99 323.19,300.96 323.85,300.94C324.51,300.91 325.17,300.91 325.84,300.91C326.50,300.91 327.16,300.92 327.83,300.93C328.49,300.95 329.16,300.98 329.82,301.01C330.48,301.04 331.15,301.08 331.81,301.12C332.48,301.16 333.14,301.21 333.81,301.25C334.47,301.29 335.14,301.34 335.80,301.39C336.47,301.43 337.14,301.48 337.80,301.52C338.47,301.56 339.13,301.60 339.80,301.63C340.47,301.67 341.13,301.69 341.80,301.72C342.47,301.74 343.13,301.76 343.80,301.77C344.47,301.78 345.13,301.79 345.80,301.80C346.47,301.80 347.13,301.80 347.80,301.80C348.47,301.79 349.13,301.78 349.80,301.77C350.47,301.76 351.14,301.74 351.80,301.72C352.47,301.70 353.14,301.68 353.81,301.65C354.47,301.62 355.14,301.59 355.81,301.56C356.47,301.52 357.14,301.48 357.81,301.44C358.48,301.40 359.14,301.36 359.81,301.32C360.48,301.27 361.15,301.22 361.81,301.17C362.48,301.12 363.15,301.07 363.81,301.02C364.48,300.96 365.15,300.90 365.82,300.85C366.48,300.79 367.15,300.73 367.82,300.66C368.48,300.60 369.15,300.54 369.82,300.47C370.48,300.40 371.15,300.33 371.81,300.26C372.48,300.19 373.15,300.12 373.81,300.04C374.48,299.97 375.14,299.89 375.81,299.81C376.47,299.73 377.14,299.65 377.80,299.57C378.47,299.48 379.13,299.40 379.80,299.31C380.46,299.22 381.13,299.13 381.79,299.03C382.46,298.94 383.12,298.85 383.78,298.75C384.45,298.65 385.11,298.55 385.77,298.45C386.44,298.35 387.10,298.25 387.76,298.14C388.43,298.03 389.09,297.92 389.75,297.81C390.41,297.70 391.07,297.59 391.73,297.47C392.40,297.36 393.06,297.24 393.72,297.12C394.38,297.00 395.04,296.88 395.70,296.75C396.36,296.63 397.02,296.50 397.68,296.37C398.33,296.24 398.99,296.11 399.65,295.97C400.31,295.84 400.97,295.70 401.63,295.56C402.28,295.42 402.94,295.28 403.60,295.13C404.25,294.99 404.91,294.84 405.56,294.69C406.22,294.54 406.88,294.39 407.53,294.24C408.18,294.08 408.84,293.93 409.49,293.77C410.15,293.61 410.80,293.44 411.45,293.28C412.11,293.12 412.76,292.95 413.41,292.78C414.06,292.61 414.71,292.44 415.36,292.26C416.01,292.09 416.66,291.91 417.31,291.73C417.96,291.55 418.61,291.37 419.26,291.18C419.91,291.00 420.56,290.81 421.20,290.62C421.85,290.43 422.50,290.24 423.14,290.05C423.79,289.85 424.44,289.66 425.08,289.46C425.73,289.27 426.37,289.07 427.02,288.87C427.66,288.66 428.31,288.46 428.95,288.26C429.60,288.05 430.24,287.85 430.88,287.64C431.53,287.44 432.17,287.23 432.81,287.02C433.46,286.81 434.10,286.60 434.74,286.39C435.38,286.17 436.02,285.96 436.67,285.75C437.31,285.53 437.95,285.32 438.59,285.10C439.23,284.89 439.87,284.67 440.51,284.45C441.16,284.24 441.80,284.02 442.44,283.80C443.08,283.58 443.72,283.36 444.36,283.14C445.00,282.93 445.64,282.71 446.28,282.49C446.92,282.27 447.56,282.05 448.20,281.83C448.84,281.61 449.48,281.39 450.12,281.17C450.76,280.95 451.40,280.73 452.04,280.51C452.68,280.29 453.32,280.07 453.96,279.85C454.60,279.63 455.24,279.41 455.88,279.19C456.52,278.98 457.16,278.76 457.80,278.54C458.44,278.32 459.07,278.11 459.72,277.89C460.36,277.68 461.00,277.46 461.64,277.25C462.28,277.04 462.92,276.82 463.56,276.61C464.20,276.40 464.84,276.19 465.48,275.98C466.12,275.77 466.76,275.57 467.40,275.36C468.04,275.15 468.69,274.95 469.33,274.75C469.97,274.54 470.61,274.34 471.25,274.14C471.90,273.94 472.54,273.74 473.18,273.55C473.82,273.35 474.47,273.16 475.11,272.96C475.76,272.77 476.40,272.58 477.04,272.39C477.69,272.21 478.33,272.02 478.98,271.84C479.62,271.65 480.27,271.47 480.91,271.29C481.56,271.12 482.21,270.94 482.85,270.77C483.50,270.60 484.15,270.43 484.79,270.26C485.44,270.09 486.09,269.93 486.74,269.77C487.39,269.61 488.04,269.45 488.68,269.30C489.33,269.14 489.98,268.99 490.64,268.85C491.29,268.70 491.94,268.56 492.59,268.42C493.24,268.28 493.89,268.15 494.55,268.01C495.20,267.88 495.85,267.76 496.51,267.63C497.16,267.51 497.82,267.39 498.47,267.28C499.13,267.17 499.78,267.06 500.44,266.95C501.10,266.85 501.76,266.75 502.41,266.65C503.07,266.56 503.73,266.47 504.39,266.38C505.05,266.30 505.71,266.22 506.37,266.14C507.03,266.07 507.70,266.00 508.36,265.93C509.02,265.86 509.69,265.80 510.35,265.74C511.02,265.68 511.68,265.62 512.35,265.57C513.01,265.52 513.68,265.47 514.35,265.42C515.02,265.37 515.69,265.33 516.36,265.28C517.03,265.24 517.70,265.20 518.37,265.16C519.04,265.12 519.72,265.08 520.39,265.04C521.06,265.00 521.74,264.96 522.41,264.92C523.09,264.88 523.77,264.85 524.44,264.81C525.12,264.77 525.80,264.73 526.48,264.69C527.16,264.65 527.84,264.61 528.53,264.57C529.21,264.53 529.89,264.49 530.58,264.44C531.26,264.40 532.29,264.32 532.63,264.30" stroke="#ff0000" stroke-width="2.0" stroke-dasharray="9.6,5.4,2.5,5.3,9.6,5.5"/><path d="M309.99,303.89C310.27,303.66 311.07,302.91 311.64,302.51C312.21,302.11 312.79,301.79 313.39,301.51C313.99,301.24 314.61,301.02 315.23,300.85C315.85,300.68 316.49,300.56 317.13,300.47C317.78,300.38 318.43,300.34 319.08,300.32C319.73,300.31 320.39,300.32 321.05,300.36C321.71,300.39 322.37,300.45 323.03,300.52C323.69,300.59 324.36,300.69 325.02,300.78C325.68,300.88 326.35,301.00 327.02,301.11C327.68,301.22 328.35,301.35 329.02,301.47C329.69,301.59 330.36,301.71 331.03,301.82C331.71,301.93 332.38,302.04 333.06,302.14C333.73,302.23 334.41,302.32 335.09,302.39C335.77,302.46 336.45,302.52 337.13,302.57C337.81,302.62 338.50,302.66 339.18,302.69C339.86,302.72 340.55,302.73 341.23,302.74C341.91,302.75 342.60,302.75 343.28,302.74C343.97,302.73 344.65,302.71 345.34,302.68C346.02,302.65 346.70,302.61 347.39,302.57C348.07,302.52 348.75,302.47 349.43,302.41C350.11,302.35 350.79,302.29 351.47,302.21C352.15,302.14 352.83,302.06 353.50,301.97C354.18,301.89 354.85,301.80 355.52,301.69C356.19,301.59 356.86,301.49 357.52,301.37C358.19,301.26 358.85,301.13 359.51,301.00C360.17,300.87 360.83,300.73 361.48,300.58C362.14,300.42 362.79,300.26 363.44,300.09C364.08,299.92 364.73,299.74 365.36,299.55C366.00,299.36 366.64,299.15 367.27,298.94C367.90,298.73 368.53,298.50 369.15,298.27C369.77,298.03 370.39,297.79 371.01,297.53C371.63,297.28 372.24,297.02 372.85,296.75C373.46,296.48 374.07,296.20 374.67,295.91C375.27,295.62 375.87,295.32 376.47,295.02C377.07,294.72 377.67,294.41 378.26,294.09C378.85,293.78 379.44,293.46 380.03,293.13C380.62,292.80 381.21,292.47 381.79,292.13C382.38,291.79 382.96,291.45 383.54,291.10C384.12,290.75 384.70,290.40 385.28,290.05C385.86,289.69 386.43,289.33 387.01,288.97C387.59,288.61 388.16,288.24 388.74,287.88C389.31,287.51 389.88,287.14 390.45,286.77C391.03,286.40 391.60,286.03 392.17,285.66C392.74,285.29 393.31,284.92 393.88,284.54C394.46,284.17 395.03,283.80 395.60,283.43C396.17,283.06 396.74,282.68 397.31,282.31C397.88,281.94 398.46,281.58 399.03,281.21C399.60,280.84 400.18,280.47 400.75,280.11C401.33,279.75 401.90,279.39 402.48,279.03C403.06,278.67 403.63,278.31 404.21,277.96C404.79,277.61 405.37,277.26 405.96,276.91C406.54,276.56 407.12,276.22 407.71,275.88C408.30,275.54 408.89,275.21 409.48,274.88C410.07,274.55 410.66,274.22 411.26,273.90C411.85,273.59 412.45,273.27 413.05,272.96C413.65,272.65 414.25,272.35 414.86,272.05C415.47,271.76 416.08,271.46 416.69,271.18C417.30,270.90 417.92,270.62 418.53,270.35C419.15,270.08 419.77,269.81 420.40,269.56C421.02,269.30 421.65,269.05 422.28,268.82C422.91,268.58 423.54,268.34 424.17,268.12C424.81,267.90 425.44,267.68 426.08,267.48C426.72,267.27 427.36,267.07 428.01,266.88C428.65,266.70 429.29,266.52 429.94,266.35C430.59,266.18 431.24,266.02 431.89,265.88C432.54,265.73 433.20,265.59 433.85,265.46C434.51,265.33 435.17,265.22 435.82,265.11C436.48,265.00 437.14,264.91 437.81,264.82C438.47,264.73 439.13,264.65 439.80,264.58C440.46,264.51 441.13,264.45 441.80,264.40C442.47,264.34 443.13,264.30 443.80,264.26C444.48,264.22 445.15,264.19 445.82,264.17C446.49,264.15 447.17,264.13 447.84,264.12C448.52,264.11 449.19,264.11 449.87,264.11C450.54,264.11 451.22,264.12 451.90,264.13C452.58,264.15 453.26,264.17 453.93,264.19C454.61,264.22 455.29,264.25 455.97,264.28C456.65,264.32 457.33,264.36 458.01,264.40C458.70,264.45 459.38,264.50 460.06,264.55C460.74,264.60 461.42,264.66 462.10,264.72C462.78,264.78 463.46,264.84 464.15,264.91C464.83,264.98 465.51,265.05 466.19,265.12C466.87,265.19 467.55,265.27 468.23,265.35C468.91,265.42 469.59,265.50 470.27,265.59C470.95,265.67 471.63,265.75 472.31,265.84C472.99,265.92 473.66,266.01 474.34,266.10C475.02,266.18 475.69,266.27 476.37,266.36C477.05,266.45 477.72,266.54 478.39,266.63C479.07,266.72 479.74,266.81 480.41,266.90C481.08,267.00 481.76,267.09 482.43,267.18C483.10,267.27 483.77,267.36 484.43,267.45C485.10,267.54 485.77,267.63 486.44,267.73C487.11,267.82 487.77,267.91 488.44,268.00C489.11,268.09 489.77,268.18 490.44,268.28C491.11,268.37 491.77,268.46 492.44,268.55C493.10,268.64 493.77,268.73 494.43,268.82C495.10,268.91 495.76,269.00 496.42,269.09C497.09,269.18 497.75,269.27 498.42,269.36C499.08,269.45 499.74,269.54 500.41,269.63C501.07,269.72 501.73,269.81 502.40,269.89C503.06,269.98 503.73,270.07 504.39,270.15C505.06,270.24 505.72,270.33 506.38,270.41C507.05,270.50 507.71,270.58 508.38,270.66C509.05,270.75 509.71,270.83 510.38,270.91C511.04,270.99 511.71,271.07 512.38,271.15C513.04,271.23 513.71,271.31 514.38,271.39C515.05,271.47 515.72,271.55 516.39,271.62C517.06,271.70 517.73,271.77 518.40,271.85C519.07,271.92 519.74,271.99 520.41,272.06C521.09,272.14 521.76,272.21 522.43,272.27C523.11,272.34 523.78,272.41 524.46,272.48C525.14,272.54 525.82,272.61 526.49,272.67C527.17,272.74 527.85,272.80 528.53,272.86C529.21,272.92 529.90,272.98 530.58,273.03C531.26,273.09 532.29,273.17 532.64,273.20" stroke="#0000ff" stroke-width="2.0" stroke-dasharray="13.8,5.2"/></g>
<path d="M337.83,303.9v-6.3M337.83,177.3v6.3M365.66,303.9v-12.4M365.66,177.3v12.4M393.49,303.9v-6.3M393.49,177.3v6.3M421.31,303.9v-12.4M421.31,177.3v12.4M449.14,303.9v-6.3M449.14,177.3v6.3M476.97,303.9v-12.4M476.97,177.3v12.4M504.80,303.9v-6.3M504.80,177.3v6.3M310.0,282.80h6.3M532.63,282.80h-6.3M310.0,261.70h12.4M532.63,261.70h-12.4M310.0,240.60h6.3M532.63,240.60h-6.3M310.0,219.50h12.4M532.63,219.50h-12.4M310.0,198.40h6.3M532.63,198.40h-6.3" stroke="#000" stroke-width="1.4" fill="none"/>
<rect x="310.0" y="177.3" width="222.63" height="126.6" fill="none" stroke="#000" stroke-width="1.5"/>
<text transform="translate(310.00,323.50) scale(1,1.08)" font-size="17.6" text-anchor="middle" fill="#000">0</text>
<text transform="translate(365.66,323.50) scale(1,1.08)" font-size="17.6" text-anchor="middle" fill="#000">500</text>
<text transform="translate(421.31,323.50) scale(1,1.08)" font-size="17.6" text-anchor="middle" fill="#000">1000</text>
<text transform="translate(476.97,323.50) scale(1,1.08)" font-size="17.6" text-anchor="middle" fill="#000">1500</text>
<text transform="translate(303.40,310.90) scale(1,1.08)" font-size="17.6" text-anchor="end" fill="#000">0</text>
<text transform="translate(303.40,268.10) scale(1,1.08)" font-size="17.6" text-anchor="end" fill="#000">0.2</text>
<text transform="translate(303.40,225.50) scale(1,1.08)" font-size="17.6" text-anchor="end" fill="#000">0.4</text>
<use href="#om" x="421.56" y="327.0"/>
<text transform="translate(504.93,209.20) scale(1,1.08)" font-size="17.6" text-anchor="end" fill="#0000ff">x = 0.032</text>
<clipPath id="c5"><rect x="564.6" y="177.3" width="222.63" height="126.6"/></clipPath>
<g clip-path="url(#c5)" fill="none" stroke-linecap="butt" stroke-linejoin="round"><path d="M564.59,303.89C564.93,303.82 565.94,303.60 566.62,303.47C567.30,303.33 567.97,303.20 568.65,303.08C569.33,302.95 570.00,302.83 570.68,302.71C571.35,302.59 572.03,302.48 572.71,302.37C573.38,302.26 574.06,302.16 574.73,302.06C575.41,301.96 576.08,301.86 576.76,301.77C577.43,301.68 578.11,301.59 578.78,301.50C579.46,301.42 580.13,301.34 580.81,301.26C581.48,301.18 582.16,301.10 582.83,301.03C583.51,300.96 584.18,300.89 584.85,300.82C585.53,300.75 586.20,300.69 586.88,300.63C587.55,300.57 588.22,300.51 588.90,300.45C589.57,300.39 590.24,300.34 590.92,300.28C591.59,300.23 592.26,300.18 592.94,300.13C593.61,300.08 594.28,300.03 594.96,299.99C595.63,299.94 596.30,299.90 596.97,299.85C597.65,299.81 598.32,299.77 598.99,299.73C599.66,299.69 600.34,299.64 601.01,299.61C601.68,299.57 602.35,299.53 603.02,299.49C603.69,299.45 604.37,299.41 605.04,299.37C605.71,299.34 606.38,299.30 607.05,299.26C607.72,299.22 608.39,299.18 609.07,299.15C609.74,299.11 610.41,299.07 611.08,299.03C611.75,298.99 612.42,298.96 613.09,298.92C613.76,298.88 614.43,298.84 615.10,298.80C615.77,298.76 616.44,298.72 617.11,298.67C617.78,298.63 618.45,298.59 619.13,298.55C619.80,298.51 620.47,298.46 621.14,298.42C621.80,298.37 622.47,298.33 623.14,298.28C623.81,298.23 624.48,298.19 625.15,298.14C625.82,298.09 626.49,298.04 627.16,297.99C627.83,297.94 628.50,297.89 629.17,297.83C629.84,297.78 630.51,297.72 631.18,297.67C631.85,297.61 632.51,297.55 633.18,297.49C633.85,297.43 634.52,297.37 635.19,297.31C635.86,297.25 636.53,297.18 637.20,297.12C637.86,297.05 638.53,296.98 639.20,296.91C639.87,296.84 640.54,296.77 641.21,296.69C641.87,296.62 642.54,296.54 643.21,296.46C643.88,296.38 644.55,296.30 645.21,296.22C645.88,296.14 646.55,296.05 647.22,295.96C647.89,295.88 648.55,295.78 649.22,295.69C649.89,295.60 650.56,295.51 651.22,295.41C651.89,295.31 652.56,295.21 653.23,295.11C653.89,295.01 654.56,294.91 655.23,294.80C655.90,294.70 656.56,294.59 657.23,294.48C657.90,294.38 658.56,294.27 659.23,294.15C659.90,294.04 660.57,293.93 661.23,293.81C661.90,293.70 662.57,293.58 663.23,293.46C663.90,293.34 664.57,293.22 665.23,293.10C665.90,292.97 666.57,292.85 667.23,292.72C667.90,292.60 668.57,292.47 669.23,292.34C669.90,292.21 670.57,292.08 671.23,291.95C671.90,291.82 672.57,291.69 673.23,291.56C673.90,291.42 674.57,291.29 675.23,291.15C675.90,291.01 676.56,290.88 677.23,290.74C677.90,290.60 678.56,290.46 679.23,290.32C679.90,290.18 680.56,290.04 681.23,289.89C681.89,289.75 682.56,289.61 683.23,289.46C683.89,289.32 684.56,289.17 685.22,289.02C685.89,288.88 686.56,288.73 687.22,288.58C687.89,288.43 688.55,288.29 689.22,288.14C689.89,287.99 690.55,287.84 691.22,287.69C691.88,287.54 692.55,287.38 693.22,287.23C693.88,287.08 694.55,286.93 695.21,286.78C695.88,286.62 696.55,286.47 697.21,286.32C697.88,286.16 698.54,286.01 699.21,285.85C699.87,285.70 700.54,285.54 701.21,285.39C701.87,285.23 702.54,285.08 703.20,284.92C703.87,284.77 704.53,284.61 705.20,284.46C705.87,284.30 706.53,284.15 707.20,283.99C707.86,283.84 708.53,283.68 709.20,283.53C709.86,283.37 710.53,283.22 711.19,283.06C711.86,282.91 712.52,282.75 713.19,282.60C713.86,282.44 714.52,282.29 715.19,282.13C715.85,281.98 716.52,281.82 717.18,281.67C717.85,281.52 718.52,281.36 719.18,281.21C719.85,281.06 720.51,280.91 721.18,280.75C721.85,280.60 722.51,280.45 723.18,280.30C723.84,280.15 724.51,280.00 725.17,279.85C725.84,279.70 726.51,279.55 727.17,279.41C727.84,279.26 728.50,279.11 729.17,278.97C729.84,278.82 730.50,278.67 731.17,278.53C731.83,278.38 732.50,278.24 733.17,278.10C733.83,277.96 734.50,277.81 735.17,277.67C735.83,277.53 736.50,277.39 737.16,277.26C737.83,277.12 738.50,276.98 739.16,276.84C739.83,276.71 740.50,276.57 741.16,276.44C741.83,276.31 742.49,276.18 743.16,276.04C743.83,275.91 744.49,275.78 745.16,275.66C745.83,275.53 746.49,275.40 747.16,275.28C747.83,275.15 748.49,275.03 749.16,274.91C749.83,274.78 750.49,274.66 751.16,274.55C751.83,274.43 752.49,274.31 753.16,274.19C753.83,274.08 754.49,273.97 755.16,273.85C755.83,273.74 756.50,273.63 757.16,273.52C757.83,273.42 758.50,273.31 759.16,273.21C759.83,273.10 760.50,273.00 761.17,272.90C761.83,272.80 762.50,272.70 763.17,272.61C763.84,272.51 764.50,272.42 765.17,272.33C765.84,272.23 766.51,272.14 767.17,272.06C767.84,271.97 768.51,271.89 769.18,271.80C769.84,271.72 770.51,271.64 771.18,271.56C771.85,271.48 772.52,271.41 773.18,271.34C773.85,271.26 774.52,271.19 775.19,271.13C775.86,271.06 776.53,270.99 777.19,270.93C777.86,270.87 778.53,270.81 779.20,270.75C779.87,270.69 780.54,270.64 781.21,270.59C781.87,270.54 782.54,270.49 783.21,270.44C783.88,270.40 784.55,270.35 785.22,270.31C785.89,270.27 786.89,270.22 787.23,270.20" stroke="#000" stroke-width="2.0"/><path d="M564.57,303.89C564.90,303.73 565.87,303.21 566.53,302.93C567.18,302.65 567.83,302.41 568.48,302.20C569.14,301.99 569.79,301.82 570.45,301.67C571.10,301.53 571.76,301.42 572.42,301.33C573.07,301.24 573.73,301.18 574.39,301.14C575.05,301.10 575.71,301.08 576.37,301.08C577.03,301.08 577.69,301.11 578.35,301.14C579.01,301.17 579.68,301.22 580.34,301.28C581.00,301.33 581.67,301.40 582.33,301.48C582.99,301.55 583.66,301.63 584.33,301.71C584.99,301.79 585.66,301.88 586.32,301.96C586.99,302.04 587.66,302.13 588.33,302.20C588.99,302.27 589.66,302.34 590.33,302.41C591.00,302.47 591.67,302.53 592.34,302.58C593.01,302.63 593.68,302.68 594.35,302.72C595.02,302.76 595.70,302.80 596.37,302.83C597.04,302.86 597.71,302.89 598.38,302.91C599.06,302.93 599.73,302.95 600.40,302.96C601.08,302.98 601.75,302.99 602.43,302.99C603.10,303.00 603.77,303.00 604.45,303.00C605.12,303.00 605.80,303.00 606.47,302.99C607.15,302.98 607.82,302.97 608.50,302.96C609.18,302.95 609.85,302.93 610.53,302.92C611.21,302.90 611.88,302.88 612.56,302.86C613.23,302.83 613.91,302.81 614.59,302.78C615.27,302.76 615.94,302.73 616.62,302.70C617.30,302.67 617.97,302.64 618.65,302.61C619.33,302.58 620.01,302.54 620.68,302.51C621.36,302.47 622.04,302.43 622.72,302.39C623.39,302.35 624.07,302.31 624.75,302.27C625.43,302.22 626.10,302.18 626.78,302.13C627.46,302.08 628.14,302.03 628.81,301.98C629.49,301.93 630.17,301.88 630.84,301.82C631.52,301.77 632.20,301.71 632.87,301.65C633.55,301.59 634.23,301.53 634.90,301.47C635.58,301.41 636.26,301.34 636.93,301.27C637.61,301.21 638.28,301.14 638.96,301.06C639.63,300.99 640.31,300.92 640.98,300.84C641.66,300.77 642.33,300.69 643.01,300.61C643.68,300.53 644.36,300.44 645.03,300.36C645.70,300.27 646.38,300.18 647.05,300.09C647.72,300.00 648.40,299.91 649.07,299.82C649.74,299.72 650.41,299.62 651.08,299.52C651.75,299.42 652.43,299.32 653.10,299.22C653.77,299.11 654.44,299.00 655.11,298.89C655.77,298.78 656.44,298.67 657.11,298.56C657.78,298.44 658.45,298.32 659.11,298.20C659.78,298.08 660.45,297.96 661.11,297.84C661.78,297.71 662.45,297.58 663.11,297.45C663.78,297.32 664.44,297.18 665.10,297.05C665.77,296.91 666.43,296.77 667.09,296.63C667.75,296.49 668.42,296.35 669.08,296.20C669.74,296.05 670.40,295.90 671.06,295.75C671.72,295.60 672.38,295.45 673.04,295.29C673.70,295.14 674.35,294.98 675.01,294.82C675.67,294.66 676.33,294.50 676.99,294.33C677.64,294.17 678.30,294.00 678.95,293.83C679.61,293.66 680.27,293.49 680.92,293.32C681.58,293.15 682.23,292.98 682.89,292.80C683.54,292.63 684.20,292.45 684.85,292.27C685.50,292.09 686.16,291.91 686.81,291.73C687.46,291.55 688.11,291.37 688.77,291.18C689.42,291.00 690.07,290.82 690.72,290.63C691.37,290.44 692.03,290.25 692.68,290.06C693.33,289.88 693.98,289.69 694.63,289.49C695.28,289.30 695.93,289.11 696.58,288.92C697.23,288.72 697.88,288.53 698.53,288.33C699.18,288.14 699.83,287.94 700.48,287.75C701.13,287.55 701.78,287.35 702.43,287.16C703.08,286.96 703.73,286.76 704.37,286.56C705.02,286.36 705.67,286.16 706.32,285.96C706.97,285.76 707.62,285.56 708.27,285.36C708.91,285.16 709.56,284.96 710.21,284.76C710.86,284.56 711.51,284.36 712.15,284.16C712.80,283.95 713.45,283.75 714.10,283.55C714.75,283.35 715.40,283.15 716.04,282.95C716.69,282.75 717.34,282.55 717.99,282.35C718.64,282.14 719.28,281.94 719.93,281.74C720.58,281.54 721.23,281.34 721.88,281.14C722.53,280.95 723.17,280.75 723.82,280.55C724.47,280.35 725.12,280.15 725.77,279.96C726.42,279.76 727.07,279.56 727.72,279.37C728.37,279.17 729.02,278.98 729.66,278.78C730.31,278.59 730.96,278.39 731.61,278.20C732.26,278.01 732.91,277.82 733.56,277.63C734.21,277.44 734.87,277.25 735.52,277.06C736.17,276.87 736.82,276.69 737.47,276.50C738.12,276.32 738.77,276.13 739.42,275.95C740.08,275.77 740.73,275.59 741.38,275.41C742.03,275.23 742.69,275.05 743.34,274.87C743.99,274.70 744.65,274.52 745.30,274.35C745.96,274.17 746.61,274.00 747.26,273.83C747.92,273.66 748.58,273.50 749.23,273.33C749.89,273.16 750.54,273.00 751.20,272.84C751.86,272.68 752.51,272.52 753.17,272.36C753.83,272.20 754.49,272.05 755.14,271.89C755.80,271.74 756.46,271.59 757.12,271.44C757.78,271.29 758.44,271.14 759.10,271.00C759.76,270.86 760.42,270.72 761.08,270.58C761.75,270.44 762.41,270.30 763.07,270.17C763.73,270.03 764.40,269.90 765.06,269.78C765.72,269.65 766.39,269.52 767.05,269.40C767.72,269.28 768.39,269.16 769.05,269.04C769.72,268.92 770.39,268.81 771.05,268.70C771.72,268.59 772.39,268.48 773.06,268.38C773.73,268.28 774.40,268.17 775.07,268.08C775.74,267.98 776.41,267.88 777.09,267.79C777.76,267.70 778.43,267.62 779.10,267.53C779.78,267.45 780.45,267.37 781.13,267.29C781.80,267.21 782.48,267.14 783.16,267.07C783.83,267.00 784.51,266.94 785.19,266.88C785.87,266.81 786.89,266.73 787.23,266.70" stroke="#ff0000" stroke-width="2.0" stroke-dasharray="9.6,5.4,2.5,5.3,9.6,5.5"/><path d="M564.58,303.90C564.89,303.67 565.81,302.92 566.43,302.54C567.04,302.16 567.67,301.86 568.29,301.61C568.92,301.36 569.55,301.18 570.18,301.04C570.81,300.89 571.44,300.81 572.08,300.75C572.72,300.68 573.36,300.67 574.00,300.66C574.64,300.65 575.29,300.68 575.94,300.70C576.58,300.73 577.23,300.77 577.88,300.81C578.54,300.85 579.19,300.91 579.84,300.96C580.50,301.02 581.16,301.08 581.82,301.15C582.48,301.21 583.14,301.28 583.80,301.35C584.46,301.42 585.13,301.49 585.79,301.56C586.46,301.63 587.12,301.69 587.79,301.76C588.46,301.82 589.13,301.88 589.80,301.93C590.46,301.99 591.14,302.04 591.81,302.09C592.48,302.13 593.15,302.18 593.82,302.21C594.50,302.25 595.17,302.29 595.84,302.32C596.52,302.35 597.19,302.38 597.87,302.40C598.54,302.43 599.22,302.45 599.90,302.46C600.57,302.48 601.25,302.49 601.93,302.50C602.61,302.51 603.28,302.52 603.96,302.52C604.64,302.52 605.32,302.52 606.00,302.52C606.68,302.52 607.36,302.51 608.03,302.50C608.71,302.49 609.39,302.47 610.07,302.46C610.75,302.44 611.43,302.42 612.11,302.40C612.79,302.38 613.46,302.35 614.14,302.32C614.82,302.29 615.50,302.26 616.18,302.23C616.86,302.19 617.53,302.16 618.21,302.12C618.89,302.08 619.56,302.03 620.24,301.99C620.92,301.94 621.59,301.90 622.27,301.85C622.94,301.80 623.62,301.74 624.29,301.69C624.96,301.63 625.64,301.58 626.31,301.52C626.98,301.46 627.66,301.39 628.33,301.33C629.00,301.26 629.67,301.19 630.34,301.12C631.01,301.05 631.68,300.98 632.35,300.90C633.02,300.83 633.69,300.75 634.36,300.67C635.03,300.59 635.70,300.50 636.36,300.42C637.03,300.33 637.70,300.24 638.36,300.15C639.03,300.06 639.69,299.96 640.36,299.87C641.02,299.77 641.69,299.67 642.35,299.57C643.02,299.47 643.68,299.36 644.34,299.25C645.01,299.15 645.67,299.04 646.33,298.92C646.99,298.81 647.65,298.70 648.31,298.58C648.97,298.46 649.63,298.34 650.29,298.21C650.95,298.09 651.61,297.96 652.27,297.83C652.93,297.70 653.58,297.57 654.24,297.44C654.90,297.30 655.55,297.17 656.21,297.03C656.87,296.89 657.52,296.74 658.18,296.60C658.83,296.45 659.48,296.30 660.14,296.15C660.79,296.00 661.44,295.85 662.10,295.69C662.75,295.53 663.40,295.37 664.05,295.21C664.70,295.05 665.35,294.88 666.00,294.72C666.65,294.55 667.30,294.38 667.95,294.20C668.60,294.03 669.25,293.86 669.89,293.68C670.54,293.50 671.19,293.31 671.83,293.13C672.48,292.95 673.12,292.76 673.77,292.57C674.41,292.38 675.06,292.18 675.70,291.99C676.35,291.79 676.99,291.59 677.63,291.39C678.27,291.19 678.92,290.98 679.56,290.78C680.20,290.57 680.84,290.36 681.48,290.15C682.12,289.94 682.76,289.72 683.40,289.51C684.04,289.29 684.68,289.07 685.32,288.85C685.95,288.63 686.59,288.41 687.23,288.19C687.87,287.97 688.51,287.74 689.14,287.52C689.78,287.29 690.42,287.06 691.05,286.84C691.69,286.61 692.33,286.38 692.96,286.15C693.60,285.92 694.24,285.69 694.87,285.46C695.51,285.23 696.14,285.00 696.78,284.77C697.41,284.53 698.05,284.30 698.69,284.07C699.32,283.84 699.96,283.61 700.59,283.37C701.23,283.14 701.86,282.91 702.50,282.68C703.14,282.45 703.77,282.22 704.41,281.99C705.04,281.76 705.68,281.53 706.32,281.30C706.95,281.07 707.59,280.84 708.23,280.62C708.86,280.39 709.50,280.17 710.14,279.94C710.77,279.72 711.41,279.50 712.05,279.28C712.69,279.06 713.33,278.84 713.96,278.62C714.60,278.41 715.24,278.19 715.88,277.98C716.52,277.77 717.16,277.56 717.80,277.35C718.44,277.14 719.08,276.93 719.72,276.73C720.36,276.53 721.01,276.33 721.65,276.13C722.29,275.93 722.93,275.74 723.58,275.55C724.22,275.36 724.87,275.17 725.51,274.98C726.16,274.80 726.80,274.62 727.45,274.44C728.10,274.26 728.74,274.09 729.39,273.92C730.04,273.75 730.69,273.58 731.34,273.42C731.99,273.26 732.64,273.10 733.29,272.95C733.94,272.79 734.59,272.64 735.25,272.50C735.90,272.35 736.55,272.21 737.21,272.07C737.86,271.92 738.52,271.78 739.17,271.65C739.83,271.51 740.49,271.38 741.15,271.24C741.80,271.11 742.46,270.98 743.12,270.85C743.78,270.71 744.44,270.58 745.10,270.45C745.76,270.32 746.42,270.19 747.08,270.06C747.74,269.93 748.41,269.80 749.07,269.67C749.73,269.54 750.39,269.40 751.06,269.27C751.72,269.14 752.39,269.00 753.05,268.87C753.72,268.74 754.38,268.60 755.05,268.48C755.71,268.35 756.38,268.22 757.05,268.10C757.71,267.97 758.38,267.85 759.05,267.74C759.71,267.62 760.38,267.51 761.05,267.41C761.72,267.31 762.39,267.21 763.06,267.12C763.73,267.03 764.39,266.95 765.06,266.87C765.73,266.80 766.40,266.73 767.07,266.67C767.74,266.60 768.41,266.54 769.09,266.49C769.76,266.43 770.43,266.39 771.10,266.34C771.77,266.29 772.44,266.25 773.11,266.21C773.78,266.17 774.46,266.14 775.13,266.10C775.80,266.07 776.47,266.04 777.14,266.00C777.82,265.97 778.49,265.94 779.16,265.91C779.83,265.88 780.51,265.85 781.18,265.82C781.85,265.79 782.52,265.76 783.20,265.72C783.87,265.69 784.54,265.66 785.21,265.62C785.89,265.58 786.89,265.52 787.23,265.50" stroke="#0000ff" stroke-width="2.0" stroke-dasharray="13.8,5.2"/></g>
<path d="M592.43,303.9v-6.3M592.43,177.3v6.3M620.26,303.9v-12.4M620.26,177.3v12.4M648.09,303.9v-6.3M648.09,177.3v6.3M675.91,303.9v-12.4M675.91,177.3v12.4M703.74,303.9v-6.3M703.74,177.3v6.3M731.57,303.9v-12.4M731.57,177.3v12.4M759.40,303.9v-6.3M759.40,177.3v6.3M564.6,282.80h6.3M787.23,282.80h-6.3M564.6,261.70h12.4M787.23,261.70h-12.4M564.6,240.60h6.3M787.23,240.60h-6.3M564.6,219.50h12.4M787.23,219.50h-12.4M564.6,198.40h6.3M787.23,198.40h-6.3" stroke="#000" stroke-width="1.4" fill="none"/>
<rect x="564.6" y="177.3" width="222.63" height="126.6" fill="none" stroke="#000" stroke-width="1.5"/>
<text transform="translate(564.60,323.50) scale(1,1.08)" font-size="17.6" text-anchor="middle" fill="#000">0</text>
<text transform="translate(620.26,323.50) scale(1,1.08)" font-size="17.6" text-anchor="middle" fill="#000">500</text>
<text transform="translate(675.91,323.50) scale(1,1.08)" font-size="17.6" text-anchor="middle" fill="#000">1000</text>
<text transform="translate(731.57,323.50) scale(1,1.08)" font-size="17.6" text-anchor="middle" fill="#000">1500</text>
<text transform="translate(558.00,310.90) scale(1,1.08)" font-size="17.6" text-anchor="end" fill="#000">0</text>
<text transform="translate(558.00,268.10) scale(1,1.08)" font-size="17.6" text-anchor="end" fill="#000">0.2</text>
<text transform="translate(558.00,225.50) scale(1,1.08)" font-size="17.6" text-anchor="end" fill="#000">0.4</text>
<use href="#om" x="676.06" y="327.0"/>
<text transform="translate(758.43,209.50) scale(1,1.08)" font-size="17.6" text-anchor="end" fill="#000">x = 0.015</text>
<g transform="translate(11,95.75) rotate(-90)"><text font-size="21" x="0" y="0" font-style="italic">χ</text><text font-size="12.5" x="8.9" y="7.6" letter-spacing="0.1">B1g</text></g>
<g transform="translate(11,254.70) rotate(-90)"><text font-size="21" x="0" y="0" font-style="italic">χ</text><text font-size="12.5" x="8.9" y="7.6" letter-spacing="0.1">B1g</text></g>
<path d="M584.2,221.3h25.8" stroke="#000" stroke-width="2.0" fill="none"/>
<text transform="translate(622.50,227.30) scale(1,1.08)" font-size="17.6" text-anchor="start" fill="#000" word-spacing="0.6">ns T = t/30</text>
<path d="M584.2,240.0h25.8" stroke="#ff0000" stroke-width="2.0" fill="none" stroke-dasharray="9.6,5.4,2.5,5.3,9.6,5.5"/>
<text transform="translate(622.50,245.90) scale(1,1.08)" font-size="17.6" text-anchor="start" fill="#000" word-spacing="0.6">ns T = t/60</text>
<path d="M584.2,258.8h25.8" stroke="#0000ff" stroke-width="2.0" fill="none" stroke-dasharray="13.8,5.2"/>
<text transform="translate(622.50,264.70) scale(1,1.08)" font-size="17.6" text-anchor="start" fill="#000" word-spacing="0.6">sc T = t/60</text>
</svg></body></html>
